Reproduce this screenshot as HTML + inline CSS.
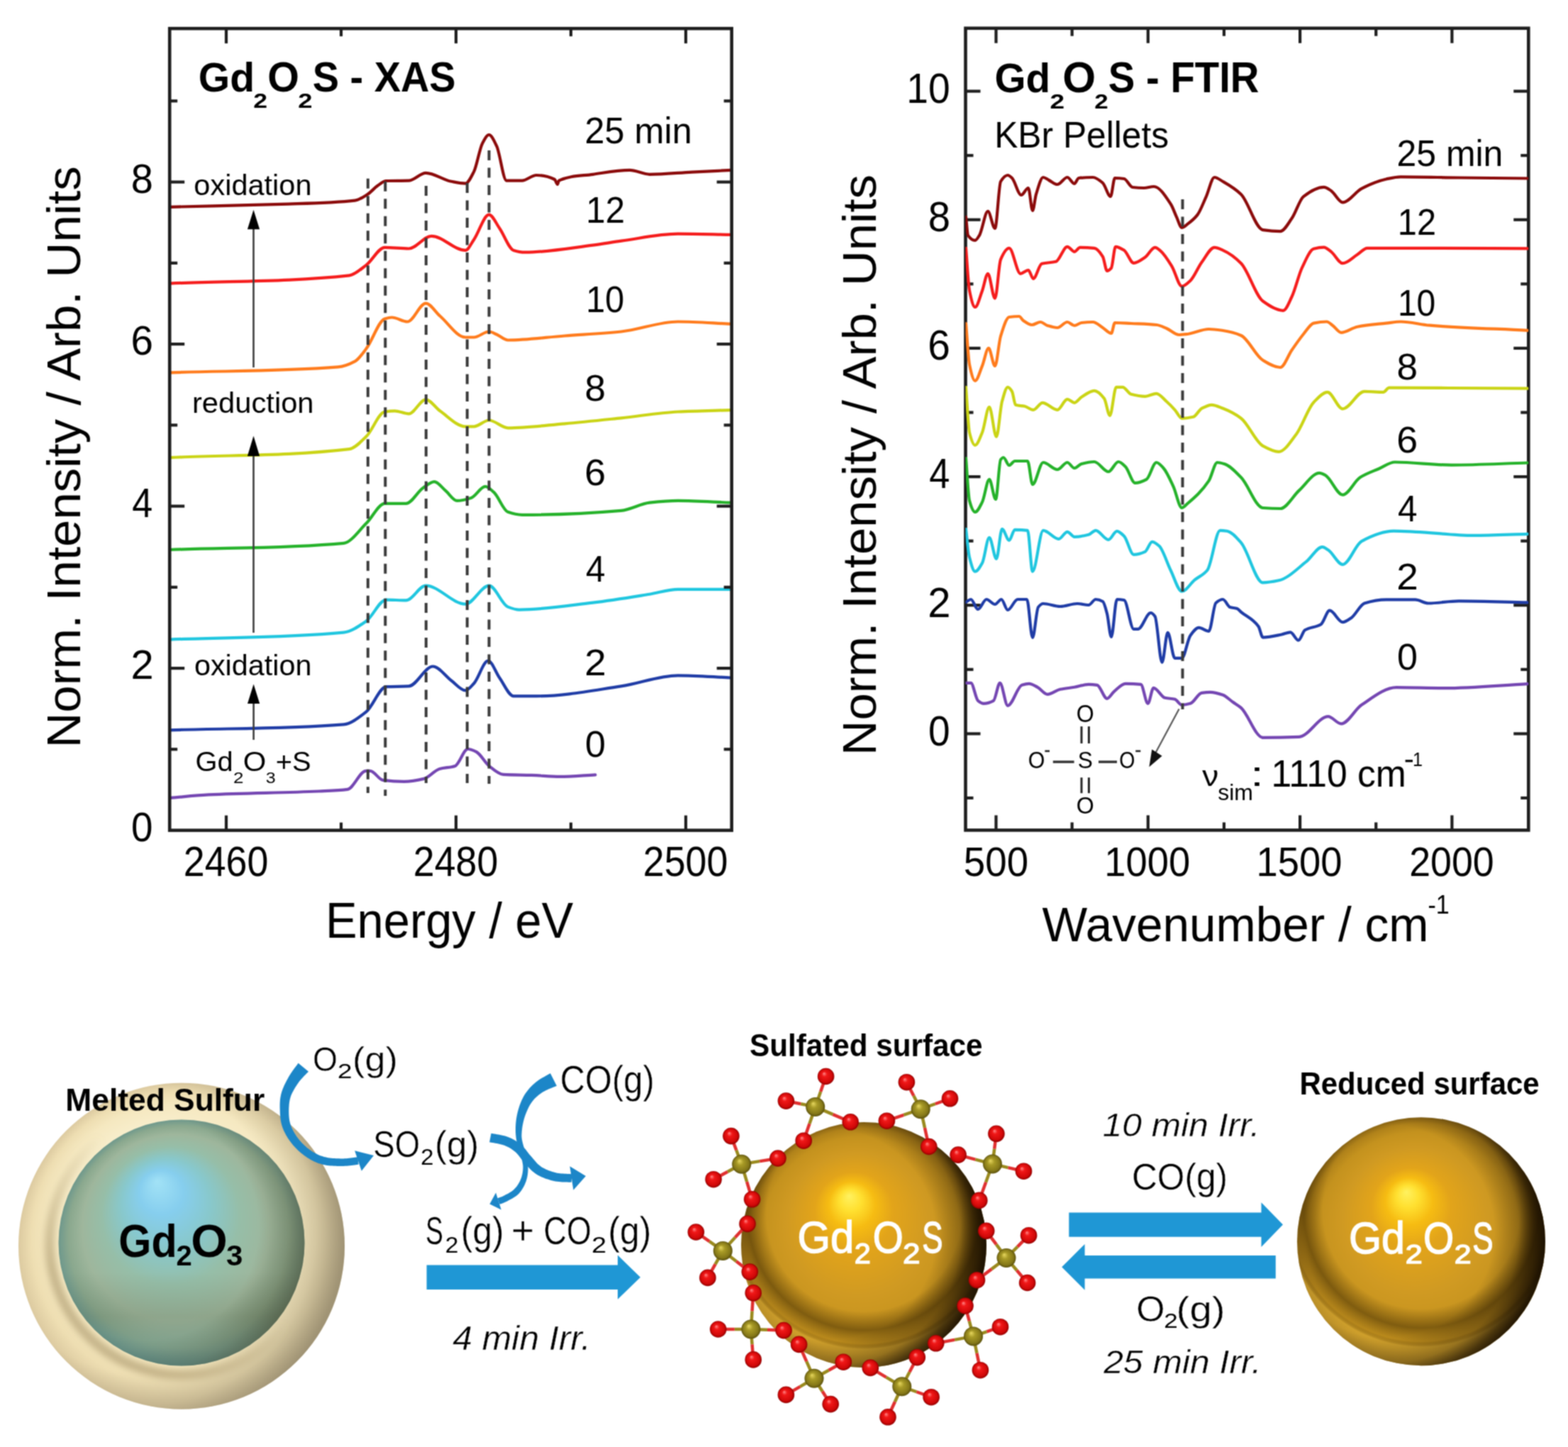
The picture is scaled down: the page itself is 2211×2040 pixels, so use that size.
<!DOCTYPE html>
<html><head><meta charset="utf-8"><title>Gd2O2S XAS FTIR</title>
<style>html,body{margin:0;padding:0;background:#fff;overflow:hidden}svg{display:block}</style>
</head><body>
<svg width="2211" height="2040" viewBox="0 0 2211 2040" font-family="'Liberation Sans', Arial, sans-serif"><defs>
<clipPath id="clipL"><rect x="239.2" y="40.2" width="792.5" height="1130.4"/></clipPath>
<clipPath id="clipR"><rect x="1361.5" y="39.8" width="793.8" height="1130.6"/></clipPath>
<radialGradient id="gOuter" cx="0.5" cy="0.5" r="0.5" fx="0.4" fy="0.3">
 <stop offset="0" stop-color="#fefcee"/>
 <stop offset="0.5" stop-color="#f9f0d0"/>
 <stop offset="0.78" stop-color="#f5e8c0"/>
 <stop offset="0.9" stop-color="#eedeb2"/>
 <stop offset="1" stop-color="#dccaa0"/>
</radialGradient>
<radialGradient id="gOuterShade" gradientUnits="userSpaceOnUse" cx="196" cy="1733" r="290">
 <stop offset="0.7" stop-color="#6e6650" stop-opacity="0"/>
 <stop offset="0.86" stop-color="#6e6650" stop-opacity="0.22"/>
 <stop offset="1" stop-color="#6e6650" stop-opacity="0.55"/>
</radialGradient>
<radialGradient id="gInner" cx="0.5" cy="0.5" r="0.5" fx="0.4" fy="0.25">
 <stop offset="0" stop-color="#a2e2f6"/>
 <stop offset="0.18" stop-color="#86ceee"/>
 <stop offset="0.36" stop-color="#88c8cc"/>
 <stop offset="0.56" stop-color="#96bea8"/>
 <stop offset="0.76" stop-color="#9eb69c"/>
 <stop offset="0.9" stop-color="#8aa88e"/>
 <stop offset="1" stop-color="#6e988c"/>
</radialGradient>
<radialGradient id="gInnerShade" gradientUnits="userSpaceOnUse" cx="205" cy="1730" r="228">
 <stop offset="0.7" stop-color="#4e4a2c" stop-opacity="0"/>
 <stop offset="0.88" stop-color="#4e4a2c" stop-opacity="0.25"/>
 <stop offset="1" stop-color="#4e4a2c" stop-opacity="0.55"/>
</radialGradient>
<linearGradient id="gInnerBand" x1="0" y1="0" x2="0" y2="1">
 <stop offset="0.62" stop-color="#3e4a30" stop-opacity="0"/>
 <stop offset="0.8" stop-color="#3e4a30" stop-opacity="0.16"/>
 <stop offset="0.93" stop-color="#2a6a80" stop-opacity="0.12"/>
 <stop offset="1" stop-color="#2a6a80" stop-opacity="0.25"/>
</linearGradient>
<linearGradient id="gShellBand" x1="1" y1="0" x2="0" y2="1">
 <stop offset="0.45" stop-color="#a08c60" stop-opacity="0"/>
 <stop offset="0.8" stop-color="#a08c60" stop-opacity="0.55"/>
</linearGradient>
<filter id="fb6" x="-20%" y="-20%" width="140%" height="140%"><feGaussianBlur stdDeviation="5"/></filter>
<radialGradient id="gGold" cx="0.5" cy="0.5" r="0.5" fx="0.44" fy="0.3">
 <stop offset="0" stop-color="#fff260"/>
 <stop offset="0.09" stop-color="#ffe030"/>
 <stop offset="0.19" stop-color="#f6bc12"/>
 <stop offset="0.32" stop-color="#e2a41a"/>
 <stop offset="0.58" stop-color="#d09a22"/>
 <stop offset="0.8" stop-color="#c4921e"/>
 <stop offset="0.92" stop-color="#b0821a"/>
 <stop offset="1" stop-color="#8c6614"/>
</radialGradient>
<radialGradient id="gO" cx="0.5" cy="0.5" r="0.5" fx="0.38" fy="0.32">
 <stop offset="0" stop-color="#ff8a8a"/>
 <stop offset="0.3" stop-color="#f01818"/>
 <stop offset="0.8" stop-color="#d00808"/>
 <stop offset="1" stop-color="#900000"/>
</radialGradient>
<radialGradient id="gS" cx="0.5" cy="0.5" r="0.5" fx="0.38" fy="0.32">
 <stop offset="0" stop-color="#e8d860"/>
 <stop offset="0.35" stop-color="#a89a26"/>
 <stop offset="0.8" stop-color="#857818"/>
 <stop offset="1" stop-color="#5a500c"/>
</radialGradient>
<radialGradient id="gs1" gradientUnits="userSpaceOnUse" cx="1171.29" cy="1741.16" r="217.98"><stop offset="0.68" stop-color="#160c00" stop-opacity="0"/><stop offset="0.84" stop-color="#160c00" stop-opacity="0.3"/><stop offset="0.93" stop-color="#160c00" stop-opacity="0.7"/><stop offset="1" stop-color="#160c00" stop-opacity="0.92"/></radialGradient><radialGradient id="gs1b" gradientUnits="userSpaceOnUse" cx="1218" cy="1711.75" r="190.3"><stop offset="0.72" stop-color="#3a2600" stop-opacity="0"/><stop offset="0.86" stop-color="#3a2600" stop-opacity="0.5"/><stop offset="0.96" stop-color="#3a2600" stop-opacity="0"/><stop offset="1.02" stop-color="#f0c040" stop-opacity="0.45"/></radialGradient><radialGradient id="gs2" gradientUnits="userSpaceOnUse" cx="1956.75" cy="1736.2" r="220.5"><stop offset="0.68" stop-color="#160c00" stop-opacity="0"/><stop offset="0.84" stop-color="#160c00" stop-opacity="0.3"/><stop offset="0.93" stop-color="#160c00" stop-opacity="0.7"/><stop offset="1" stop-color="#160c00" stop-opacity="0.92"/></radialGradient><radialGradient id="gs2b" gradientUnits="userSpaceOnUse" cx="2004" cy="1706.45" r="192.5"><stop offset="0.72" stop-color="#3a2600" stop-opacity="0"/><stop offset="0.86" stop-color="#3a2600" stop-opacity="0.5"/><stop offset="0.96" stop-color="#3a2600" stop-opacity="0"/><stop offset="1.02" stop-color="#f0c040" stop-opacity="0.45"/></radialGradient></defs><filter id="soft" x="0" y="0" width="2211" height="2040" filterUnits="userSpaceOnUse" color-interpolation-filters="sRGB"><feConvolveMatrix order="3" kernelMatrix="1 2 1 2 4 2 1 2 1" edgeMode="duplicate" preserveAlpha="true"/></filter><g filter="url(#soft)"><rect width="2211" height="2040" fill="#fff"/><g clip-path="url(#clipL)">
<path d="M239,291.8 C291.57,290.47 344.13,289.61 396.7,287.8 C431.33,286.61 465.97,286.49 500.6,282.6 C506.57,281.93 512.53,277.57 518.5,273.8 C523.17,270.85 527.83,264.97 532.5,261.8 C536.5,259.09 540.5,255.11 544.5,255 C555.17,254.69 565.83,254.87 576.5,254.6 C584.47,254.4 592.43,243.8 600.4,243.8 C612.4,243.8 624.4,253.51 636.4,255.8 C643.03,257.06 649.67,258.6 656.3,258.6 C660.3,258.6 664.3,249.75 668.3,241.9 C672.3,234.05 676.3,209.21 680.3,201.9 C683.37,196.29 686.43,190 689.5,190 C693.1,190 696.7,198.56 700.3,205.9 C704.93,215.34 709.57,254.6 714.2,254.6 C721.53,254.6 728.87,254.6 736.2,254.6 C742.87,254.6 749.53,247 756.2,247 C764.83,247 773.47,248.68 782.1,253 C783.43,253.67 784.77,259.8 786.1,259.8 C786.77,259.8 787.43,254.91 788.1,254.6 C804.07,247.13 820.03,248.05 836,245.8 C853.33,243.36 870.67,239.9 888,239.9 C897.33,239.9 906.67,245.8 916,245.8 C935.93,245.8 955.87,243.62 975.8,242.6 C994.2,241.66 1012.6,240.8 1031,239.9" fill="none" stroke="#8b0a0a" stroke-width="4.2" stroke-linejoin="round" stroke-linecap="round" />
<path d="M239,399.6 C323.53,395.87 408.07,397.56 492.6,388.4 C500.57,387.54 508.53,379.56 516.5,373.6 C525.17,367.12 533.83,348.9 542.5,348.9 C553.83,348.9 565.17,350.5 576.5,350.5 C587.13,350.5 597.77,332.9 608.4,332.9 C624.37,332.9 640.33,352.9 656.3,352.9 C660.3,352.9 664.3,343.37 668.3,337.7 C675.37,327.68 682.43,302.6 689.5,302.6 C694.43,302.6 699.37,314.75 704.3,321.7 C710.93,331.05 717.57,350.87 724.2,352.9 C729.53,354.53 734.87,355.7 740.2,355.7 C772.13,355.7 804.07,349.73 836,345.7 C849.33,344.02 862.67,341.54 876,339.7 C902.63,336.03 929.27,329.7 955.9,329.7 C980.93,329.7 1005.97,330.5 1031,330.9" fill="none" stroke="#f51c1c" stroke-width="4.2" stroke-linejoin="round" stroke-linecap="round" />
<path d="M239,525.4 C318.2,522.73 397.4,523.63 476.6,517.4 C484.6,516.77 492.6,513.67 500.6,509.4 C505.9,506.57 511.2,498.43 516.5,491.5 C525.17,480.16 533.83,452.27 542.5,449.5 C545.83,448.44 549.17,447.5 552.5,447.5 C559.83,447.5 567.17,453.5 574.5,453.5 C583.13,453.5 591.77,427.6 600.4,427.6 C607.07,427.6 613.73,439.72 620.4,445.5 C632.37,455.88 644.33,475.5 656.3,475.5 C660.3,475.5 664.3,475.5 668.3,475.5 C675.37,475.5 682.43,467.5 689.5,467.5 C693.1,467.5 696.7,469.98 700.3,471.5 C705.6,473.74 710.9,479.5 716.2,479.5 C742.83,479.5 769.47,475.5 796.1,473.5 C822.73,471.5 849.37,470.3 876,467.5 C902.63,464.7 929.27,453.5 955.9,453.5 C980.93,453.5 1005.97,455.63 1031,456.7" fill="none" stroke="#ff7b1c" stroke-width="4.2" stroke-linejoin="round" stroke-linecap="round" />
<path d="M239,645.2 C323.53,641.2 408.07,643.14 492.6,633.2 C500.57,632.26 508.53,622.92 516.5,615.3 C525.17,607.01 533.83,581.78 542.5,580.5 C547.17,579.81 551.83,579.3 556.5,579.3 C563.17,579.3 569.83,583.3 576.5,583.3 C584.47,583.3 592.43,563.3 600.4,563.3 C607.07,563.3 613.73,574.61 620.4,579.3 C632.37,587.71 644.33,601.3 656.3,601.3 C660.3,601.3 664.3,601.3 668.3,601.3 C675.37,601.3 682.43,592.5 689.5,592.5 C698.4,592.5 707.3,603.3 716.2,603.3 C742.83,603.3 769.47,599.59 796.1,597.3 C822.73,595.01 849.37,592.09 876,589.3 C902.63,586.51 929.27,581.81 955.9,580.5 C980.93,579.27 1005.97,578.9 1031,578.1" fill="none" stroke="#cad415" stroke-width="4.2" stroke-linejoin="round" stroke-linecap="round" />
<path d="M239,775 C320.87,771.93 402.73,773.5 484.6,765.8 C495.23,764.8 505.87,748.1 516.5,737.8 C525.17,729.4 533.83,709.9 542.5,709.9 C552.5,709.9 562.5,709.9 572.5,709.9 C580.47,709.9 588.43,693.3 596.4,687.9 C601.73,684.29 607.07,679.1 612.4,679.1 C617.73,679.1 623.07,687.44 628.4,691.9 C633.73,696.36 639.07,705.9 644.4,705.9 C651.03,705.9 657.67,704.03 664.3,701.9 C670.97,699.76 677.63,685.9 684.3,685.9 C688.3,685.9 692.3,690.39 696.3,693.9 C702.93,699.72 709.57,719.48 716.2,721.8 C722.87,724.14 729.53,725.8 736.2,725.8 C782.8,725.8 829.4,723.81 876,719.8 C889.3,718.66 902.6,710.19 915.9,708.7 C929.23,707.21 942.57,705.9 955.9,705.9 C980.93,705.9 1005.97,707.77 1031,708.7" fill="none" stroke="#25b22a" stroke-width="4.2" stroke-linejoin="round" stroke-linecap="round" />
<path d="M239,901.6 C320.87,898.27 402.73,899.49 484.6,891.6 C495.23,890.58 505.87,882.92 516.5,875.6 C525.83,869.17 535.17,845.6 544.5,845.6 C553.83,845.6 563.17,846.4 572.5,846.4 C581.8,846.4 591.1,825.7 600.4,825.7 C619.03,825.7 637.67,851.6 656.3,851.6 C667.37,851.6 678.43,825.7 689.5,825.7 C698.4,825.7 707.3,852.15 716.2,855.6 C721.53,857.67 726.87,859.6 732.2,859.6 C766.8,859.6 801.4,853.69 836,849.6 C862.63,846.45 889.27,841.96 915.9,837.7 C929.23,835.57 942.57,830.9 955.9,830.9 C980.93,830.9 1005.97,830.9 1031,830.9" fill="none" stroke="#1fc6df" stroke-width="4.2" stroke-linejoin="round" stroke-linecap="round" />
<path d="M239,1029.3 C320.87,1026.63 402.73,1027.83 484.6,1021.3 C495.23,1020.45 505.87,1011.72 516.5,1003.4 C525.83,996.1 535.17,968.67 544.5,968.2 C555.17,967.67 565.83,967.91 576.5,967.4 C587.8,966.86 599.1,939.5 610.4,939.5 C619.07,939.5 627.73,953.17 636.4,959.5 C643.03,964.35 649.67,973.4 656.3,973.4 C660.3,973.4 664.3,967.74 668.3,963.5 C674.97,956.43 681.63,931.5 688.3,931.5 C693.63,931.5 698.97,948.05 704.3,955.5 C710.93,964.77 717.57,981.4 724.2,981.4 C734.87,981.4 745.53,981.4 756.2,981.4 C796.13,981.4 836.07,973.26 876,967.4 C902.63,963.49 929.27,952.3 955.9,952.3 C980.93,952.3 1005.97,954.43 1031,955.5" fill="none" stroke="#1f3ca6" stroke-width="4.2" stroke-linejoin="round" stroke-linecap="round" />
<path d="M239,1125 C257.33,1123.47 275.67,1121.3 294,1120.4 C346,1117.84 398,1117.86 450,1115.5 C463.33,1114.89 476.67,1114.64 490,1112.9 C498.67,1111.77 507.33,1086.9 516,1086.9 C518,1086.9 520,1086.9 522,1086.9 C527.97,1086.9 533.93,1099.11 539.9,1099.9 C549.87,1101.21 559.83,1101.9 569.8,1101.9 C579.13,1101.9 588.47,1100.13 597.8,1097.9 C605.13,1096.14 612.47,1085.98 619.8,1083.9 C627.1,1081.83 634.4,1082.3 641.7,1079.9 C647.7,1077.92 653.7,1056 659.7,1056 C663.7,1056 667.7,1058.02 671.7,1060 C677.7,1062.97 683.7,1075.19 689.7,1079.9 C696.33,1085.1 702.97,1091.54 709.6,1091.9 C722.93,1092.61 736.27,1092.46 749.6,1092.9 C762.9,1093.34 776.2,1094.9 789.5,1094.9 C806.13,1094.9 822.77,1093.17 839.4,1092.3" fill="none" stroke="#7446b2" stroke-width="4.2" stroke-linejoin="round" stroke-linecap="round" />
</g>
<line x1="518.8" y1="251.8" x2="518.8" y2="1118" stroke="#3a3a3a" stroke-width="4" stroke-dasharray="14 10.5"/>
<line x1="543.3" y1="255.8" x2="543.3" y2="1122" stroke="#3a3a3a" stroke-width="4" stroke-dasharray="14 10.5"/>
<line x1="600.8" y1="262" x2="600.8" y2="1104" stroke="#3a3a3a" stroke-width="4" stroke-dasharray="14 10.5"/>
<line x1="658.8" y1="258" x2="658.8" y2="1104" stroke="#3a3a3a" stroke-width="4" stroke-dasharray="14 10.5"/>
<line x1="689.6" y1="212" x2="689.6" y2="1105" stroke="#3a3a3a" stroke-width="4" stroke-dasharray="14 10.5"/>
<line x1="357.5" y1="322.3" x2="357.5" y2="518" stroke="#3c3c3c" stroke-width="2.6" />
<polygon points="357.5,295.8 348.9,323.3 366.1,323.3" fill="#000"/>
<line x1="357.5" y1="641.9" x2="357.5" y2="892" stroke="#3c3c3c" stroke-width="2.6" />
<polygon points="357.5,614.4 348.9,642.9 366.1,642.9" fill="#000"/>
<line x1="357.6" y1="991" x2="357.6" y2="1043" stroke="#3c3c3c" stroke-width="2.6" />
<polygon points="357.6,964.6 349,992 366.2,992" fill="#000"/>
<rect x="239.2" y="40.2" width="792.5" height="1130.3999999999999" fill="none" stroke="#1e1e1e" stroke-width="4.6"/>
<rect x="1361.5" y="39.8" width="793.8000000000002" height="1130.6000000000001" fill="none" stroke="#1e1e1e" stroke-width="4.6"/>
<line x1="319" y1="40.2" x2="319" y2="61.2" stroke="#1e1e1e" stroke-width="4.2" />
<line x1="319" y1="1170.6" x2="319" y2="1149.6" stroke="#1e1e1e" stroke-width="4.2" />
<line x1="481" y1="40.2" x2="481" y2="51.2" stroke="#1e1e1e" stroke-width="4.2" />
<line x1="481" y1="1170.6" x2="481" y2="1159.6" stroke="#1e1e1e" stroke-width="4.2" />
<line x1="643" y1="40.2" x2="643" y2="61.2" stroke="#1e1e1e" stroke-width="4.2" />
<line x1="643" y1="1170.6" x2="643" y2="1149.6" stroke="#1e1e1e" stroke-width="4.2" />
<line x1="805" y1="40.2" x2="805" y2="51.2" stroke="#1e1e1e" stroke-width="4.2" />
<line x1="805" y1="1170.6" x2="805" y2="1159.6" stroke="#1e1e1e" stroke-width="4.2" />
<line x1="967" y1="40.2" x2="967" y2="61.2" stroke="#1e1e1e" stroke-width="4.2" />
<line x1="967" y1="1170.6" x2="967" y2="1149.6" stroke="#1e1e1e" stroke-width="4.2" />
<line x1="239.2" y1="1056.35" x2="250.2" y2="1056.35" stroke="#1e1e1e" stroke-width="4.2" />
<line x1="1031.7" y1="1056.35" x2="1020.7" y2="1056.35" stroke="#1e1e1e" stroke-width="4.2" />
<line x1="239.2" y1="942.1" x2="260.2" y2="942.1" stroke="#1e1e1e" stroke-width="4.2" />
<line x1="1031.7" y1="942.1" x2="1010.7" y2="942.1" stroke="#1e1e1e" stroke-width="4.2" />
<line x1="239.2" y1="827.85" x2="250.2" y2="827.85" stroke="#1e1e1e" stroke-width="4.2" />
<line x1="1031.7" y1="827.85" x2="1020.7" y2="827.85" stroke="#1e1e1e" stroke-width="4.2" />
<line x1="239.2" y1="713.6" x2="260.2" y2="713.6" stroke="#1e1e1e" stroke-width="4.2" />
<line x1="1031.7" y1="713.6" x2="1010.7" y2="713.6" stroke="#1e1e1e" stroke-width="4.2" />
<line x1="239.2" y1="599.35" x2="250.2" y2="599.35" stroke="#1e1e1e" stroke-width="4.2" />
<line x1="1031.7" y1="599.35" x2="1020.7" y2="599.35" stroke="#1e1e1e" stroke-width="4.2" />
<line x1="239.2" y1="485.1" x2="260.2" y2="485.1" stroke="#1e1e1e" stroke-width="4.2" />
<line x1="1031.7" y1="485.1" x2="1010.7" y2="485.1" stroke="#1e1e1e" stroke-width="4.2" />
<line x1="239.2" y1="370.85" x2="250.2" y2="370.85" stroke="#1e1e1e" stroke-width="4.2" />
<line x1="1031.7" y1="370.85" x2="1020.7" y2="370.85" stroke="#1e1e1e" stroke-width="4.2" />
<line x1="239.2" y1="256.6" x2="260.2" y2="256.6" stroke="#1e1e1e" stroke-width="4.2" />
<line x1="1031.7" y1="256.6" x2="1010.7" y2="256.6" stroke="#1e1e1e" stroke-width="4.2" />
<line x1="239.2" y1="142.35" x2="250.2" y2="142.35" stroke="#1e1e1e" stroke-width="4.2" />
<line x1="1031.7" y1="142.35" x2="1020.7" y2="142.35" stroke="#1e1e1e" stroke-width="4.2" />
<line x1="1404.5" y1="39.8" x2="1404.5" y2="60.8" stroke="#1e1e1e" stroke-width="4.2" />
<line x1="1404.5" y1="1170.4" x2="1404.5" y2="1149.4" stroke="#1e1e1e" stroke-width="4.2" />
<line x1="1511.65" y1="39.8" x2="1511.65" y2="50.8" stroke="#1e1e1e" stroke-width="4.2" />
<line x1="1511.65" y1="1170.4" x2="1511.65" y2="1159.4" stroke="#1e1e1e" stroke-width="4.2" />
<line x1="1618.8" y1="39.8" x2="1618.8" y2="60.8" stroke="#1e1e1e" stroke-width="4.2" />
<line x1="1618.8" y1="1170.4" x2="1618.8" y2="1149.4" stroke="#1e1e1e" stroke-width="4.2" />
<line x1="1725.95" y1="39.8" x2="1725.95" y2="50.8" stroke="#1e1e1e" stroke-width="4.2" />
<line x1="1725.95" y1="1170.4" x2="1725.95" y2="1159.4" stroke="#1e1e1e" stroke-width="4.2" />
<line x1="1833.1" y1="39.8" x2="1833.1" y2="60.8" stroke="#1e1e1e" stroke-width="4.2" />
<line x1="1833.1" y1="1170.4" x2="1833.1" y2="1149.4" stroke="#1e1e1e" stroke-width="4.2" />
<line x1="1940.25" y1="39.8" x2="1940.25" y2="50.8" stroke="#1e1e1e" stroke-width="4.2" />
<line x1="1940.25" y1="1170.4" x2="1940.25" y2="1159.4" stroke="#1e1e1e" stroke-width="4.2" />
<line x1="2047.4" y1="39.8" x2="2047.4" y2="60.8" stroke="#1e1e1e" stroke-width="4.2" />
<line x1="2047.4" y1="1170.4" x2="2047.4" y2="1149.4" stroke="#1e1e1e" stroke-width="4.2" />
<line x1="1361.5" y1="1124.98" x2="1372.5" y2="1124.98" stroke="#1e1e1e" stroke-width="4.2" />
<line x1="2155.3" y1="1124.98" x2="2144.3" y2="1124.98" stroke="#1e1e1e" stroke-width="4.2" />
<line x1="1361.5" y1="1034.4" x2="1382.5" y2="1034.4" stroke="#1e1e1e" stroke-width="4.2" />
<line x1="2155.3" y1="1034.4" x2="2134.3" y2="1034.4" stroke="#1e1e1e" stroke-width="4.2" />
<line x1="1361.5" y1="943.82" x2="1372.5" y2="943.82" stroke="#1e1e1e" stroke-width="4.2" />
<line x1="2155.3" y1="943.82" x2="2144.3" y2="943.82" stroke="#1e1e1e" stroke-width="4.2" />
<line x1="1361.5" y1="853.24" x2="1382.5" y2="853.24" stroke="#1e1e1e" stroke-width="4.2" />
<line x1="2155.3" y1="853.24" x2="2134.3" y2="853.24" stroke="#1e1e1e" stroke-width="4.2" />
<line x1="1361.5" y1="762.66" x2="1372.5" y2="762.66" stroke="#1e1e1e" stroke-width="4.2" />
<line x1="2155.3" y1="762.66" x2="2144.3" y2="762.66" stroke="#1e1e1e" stroke-width="4.2" />
<line x1="1361.5" y1="672.08" x2="1382.5" y2="672.08" stroke="#1e1e1e" stroke-width="4.2" />
<line x1="2155.3" y1="672.08" x2="2134.3" y2="672.08" stroke="#1e1e1e" stroke-width="4.2" />
<line x1="1361.5" y1="581.5" x2="1372.5" y2="581.5" stroke="#1e1e1e" stroke-width="4.2" />
<line x1="2155.3" y1="581.5" x2="2144.3" y2="581.5" stroke="#1e1e1e" stroke-width="4.2" />
<line x1="1361.5" y1="490.92" x2="1382.5" y2="490.92" stroke="#1e1e1e" stroke-width="4.2" />
<line x1="2155.3" y1="490.92" x2="2134.3" y2="490.92" stroke="#1e1e1e" stroke-width="4.2" />
<line x1="1361.5" y1="400.34" x2="1372.5" y2="400.34" stroke="#1e1e1e" stroke-width="4.2" />
<line x1="2155.3" y1="400.34" x2="2144.3" y2="400.34" stroke="#1e1e1e" stroke-width="4.2" />
<line x1="1361.5" y1="309.76" x2="1382.5" y2="309.76" stroke="#1e1e1e" stroke-width="4.2" />
<line x1="2155.3" y1="309.76" x2="2134.3" y2="309.76" stroke="#1e1e1e" stroke-width="4.2" />
<line x1="1361.5" y1="219.18" x2="1372.5" y2="219.18" stroke="#1e1e1e" stroke-width="4.2" />
<line x1="2155.3" y1="219.18" x2="2144.3" y2="219.18" stroke="#1e1e1e" stroke-width="4.2" />
<line x1="1361.5" y1="128.6" x2="1382.5" y2="128.6" stroke="#1e1e1e" stroke-width="4.2" />
<line x1="2155.3" y1="128.6" x2="2134.3" y2="128.6" stroke="#1e1e1e" stroke-width="4.2" />
<g clip-path="url(#clipR)">
<path d="M1362,305.9 C1363,314.53 1364,330.27 1365,331.8 C1368.33,336.89 1371.67,338.8 1375,338.8 C1377,338.8 1379,334.96 1381,331.8 C1385,325.49 1389,297.9 1393,297.9 C1396.33,297.9 1399.67,321.9 1403,321.9 C1405.67,321.9 1408.33,260.46 1411,256 C1414.33,250.43 1417.67,247 1421,247 C1423,247 1425,249.15 1427,251 C1431.33,255.01 1435.67,275 1440,275 C1443.33,275 1446.67,265 1450,265 C1452,265 1454,296.9 1456,296.9 C1457.67,296.9 1459.33,279.33 1461,273.9 C1464.33,263.03 1467.67,250 1471,250 C1473.67,250 1476.33,252.67 1479,254 C1483,256 1487,260 1491,260 C1495.67,260 1500.33,250 1505,250 C1508.33,250 1511.67,259 1515,259 C1517,259 1519,251.23 1521,251 C1527.67,250.23 1534.33,250 1541,250 C1545.67,250 1550.33,253.91 1555,258 C1558.67,261.21 1562.33,277 1566,277 C1568,277 1570,251 1572,251 C1576.33,251 1580.67,251.37 1585,252 C1589,252.58 1593,263.51 1597,264 C1602.33,264.65 1607.67,265 1613,265 C1617.67,265 1622.33,263 1627,263 C1635,263 1643,275.89 1651,288 C1653.67,292.04 1656.33,300.27 1659,305.9 C1661.5,311.18 1664,320.9 1666.5,320.9 C1669.17,320.9 1671.83,317.86 1674.5,315.9 C1679.17,312.47 1683.83,308.95 1688.5,302.9 C1692.5,297.71 1696.5,286.69 1700.5,277.9 C1704.5,269.11 1708.5,250 1712.5,250 C1716.5,250 1720.5,253.71 1724.5,256 C1733,260.88 1741.5,265.72 1750,274 C1760.23,283.97 1770.47,322.67 1780.7,324.2 C1788.9,325.43 1797.1,326.2 1805.3,326.2 C1810.73,326.2 1816.17,315.45 1821.6,307.8 C1827.07,300.1 1832.53,281.4 1838,277.1 C1847.57,269.58 1857.13,263.8 1866.7,263.8 C1870.13,263.8 1873.57,266.68 1877,268.9 C1882.43,272.42 1887.87,285.3 1893.3,285.3 C1902.2,285.3 1911.1,270.34 1920,265.8 C1931.57,259.91 1943.13,254.93 1954.7,252.5 C1961.47,251.08 1968.23,249.4 1975,249.4 C2002.33,249.4 2029.67,250.18 2057,250.5 C2089.33,250.88 2121.67,251.17 2154,251.5" fill="none" stroke="#8b0a0a" stroke-width="4.2" stroke-linejoin="round" stroke-linecap="round" />
<path d="M1362,349.8 C1363.67,369.77 1365.33,401.51 1367,409.7 C1369.67,422.81 1372.33,433 1375,433 C1378.33,433 1381.67,418.75 1385,410 C1387.67,403 1390.33,385.8 1393,385.8 C1396.33,385.8 1399.67,420.7 1403,420.7 C1405.67,420.7 1408.33,372.03 1411,365.8 C1415,356.45 1419,349.8 1423,349.8 C1428.33,349.8 1433.67,385.8 1439,385.8 C1442.67,385.8 1446.33,380.8 1450,380.8 C1452.33,380.8 1454.67,392.8 1457,392.8 C1461,392.8 1465,372.99 1469,371.8 C1475.67,369.82 1482.33,370.65 1489,368.8 C1494.33,367.32 1499.67,347.8 1505,347.8 C1508.33,347.8 1511.67,354.8 1515,354.8 C1517.67,354.8 1520.33,348.8 1523,348.8 C1529.67,348.8 1536.33,349.11 1543,349.8 C1547,350.21 1551,355.25 1555,361.8 C1557,365.07 1559,381.8 1561,381.8 C1563,381.8 1565,380.15 1567,377.8 C1569,375.45 1571,347.8 1573,347.8 C1577,347.8 1581,350.29 1585,352.8 C1589.53,355.64 1594.07,370.8 1598.6,370.8 C1603.93,370.8 1609.27,366.38 1614.6,362.8 C1619.27,359.67 1623.93,348.8 1628.6,348.8 C1631.27,348.8 1633.93,351.6 1636.6,353.8 C1641.93,358.2 1647.27,367.06 1652.6,375.8 C1657.23,383.39 1661.87,403.7 1666.5,403.7 C1670.5,403.7 1674.5,399.4 1678.5,395.7 C1683.83,390.76 1689.17,377.06 1694.5,369.8 C1700.5,361.64 1706.5,348.8 1712.5,348.8 C1716.5,348.8 1720.5,351.05 1724.5,352.8 C1733,356.51 1741.5,362.64 1750,371.2 C1760.23,381.5 1770.47,417.06 1780.7,424.5 C1790.27,431.45 1799.83,437.8 1809.4,437.8 C1813.47,437.8 1817.53,426.56 1821.6,418.3 C1826.4,408.56 1831.2,387.37 1836,377.4 C1841.47,366.05 1846.93,352.24 1852.4,350.8 C1857.17,349.54 1861.93,348.7 1866.7,348.7 C1870.13,348.7 1873.57,352.37 1877,354.9 C1882.43,358.91 1887.87,371.2 1893.3,371.2 C1900.13,371.2 1906.97,363.25 1913.8,359 C1918.53,356.06 1923.27,349.8 1928,349.8 C1950.53,349.8 1973.07,349.8 1995.6,349.8 C2048.4,349.8 2101.2,350.2 2154,350.4" fill="none" stroke="#f51c1c" stroke-width="4.2" stroke-linejoin="round" stroke-linecap="round" />
<path d="M1362,456 C1363.67,475.3 1365.33,505.88 1367,513.9 C1369.67,526.74 1372.33,536.8 1375,536.8 C1378.33,536.8 1381.67,523.87 1385,515.9 C1388,508.73 1391,490.9 1394,490.9 C1397,490.9 1400,515.9 1403,515.9 C1405.67,515.9 1408.33,482.62 1411,474 C1415,461.06 1419,447.57 1423,447 C1427.67,446.34 1432.33,446 1437,446 C1439,446 1441,450.62 1443,452 C1447,454.77 1451,458 1455,458 C1459,458 1463,454 1467,454 C1470.33,454 1473.67,457.98 1477,459 C1481.67,460.43 1486.33,462 1491,462 C1495.67,462 1500.33,454 1505,454 C1508.33,454 1511.67,459 1515,459 C1518.33,459 1521.67,455.38 1525,455 C1530.33,454.39 1535.67,454 1541,454 C1545.67,454 1550.33,459.12 1555,462 C1559,464.47 1563,470 1567,470 C1568.67,470 1570.33,455 1572,455 C1579.67,455 1587.33,455.63 1595,456 C1607,456.58 1619,456.71 1631,458 C1635.67,458.5 1640.33,461.05 1645,463 C1650.83,465.44 1656.67,472 1662.5,472 C1666.5,472 1670.5,471.46 1674.5,471 C1684.5,469.85 1694.5,464 1704.5,464 C1711.17,464 1717.83,465.04 1724.5,466 C1733,467.22 1741.5,469.31 1750,473 C1760.23,477.44 1770.47,501.69 1780.7,507.8 C1788.9,512.7 1797.1,518 1805.3,518 C1810.73,518 1816.17,501.29 1821.6,493.5 C1827.07,485.66 1832.53,477.55 1838,471 C1842.8,465.25 1847.6,456.62 1852.4,455.6 C1858.53,454.29 1864.67,453.5 1870.8,453.5 C1873.53,453.5 1876.27,456.75 1879,458.7 C1883.07,461.61 1887.13,468.9 1891.2,468.9 C1898.73,468.9 1906.27,462.17 1913.8,460.7 C1927.43,458.05 1941.07,457.12 1954.7,455.6 C1961.53,454.84 1968.37,453.5 1975.2,453.5 C1988.8,453.5 2002.4,457.62 2016,458.7 C2062,462.35 2108,463.43 2154,465.8" fill="none" stroke="#ff7b1c" stroke-width="4.2" stroke-linejoin="round" stroke-linecap="round" />
<path d="M1362,545.8 C1363.67,567.1 1365.33,602.96 1367,609.7 C1369.67,620.48 1372.33,627.7 1375,627.7 C1378.33,627.7 1381.67,617.69 1385,609.7 C1388.33,601.71 1391.67,573.8 1395,573.8 C1398.33,573.8 1401.67,615.7 1405,615.7 C1407.67,615.7 1410.33,575.32 1413,565.8 C1415.67,556.28 1418.33,545.8 1421,545.8 C1423,545.8 1425,548.58 1427,551.8 C1428.67,554.49 1430.33,570.23 1432,570.8 C1436.33,572.28 1440.67,571.82 1445,572.8 C1449,573.7 1453,577.8 1457,577.8 C1461.33,577.8 1465.67,567.8 1470,567.8 C1477,567.8 1484,577.8 1491,577.8 C1495.67,577.8 1500.33,562.8 1505,562.8 C1508.33,562.8 1511.67,567.8 1515,567.8 C1518.33,567.8 1521.67,561.9 1525,559.8 C1531,556.02 1537,550.8 1543,550.8 C1547.67,550.8 1552.33,555.66 1557,561.8 C1559.67,565.31 1562.33,585.8 1565,585.8 C1568,585.8 1571,545.8 1574,545.8 C1577,545.8 1580,545.8 1583,545.8 C1587,545.8 1591,554.72 1595,555.8 C1601.67,557.6 1608.33,558.8 1615,558.8 C1620.2,558.8 1625.4,554.8 1630.6,554.8 C1635.27,554.8 1639.93,561.68 1644.6,565.8 C1648.6,569.33 1652.6,573.4 1656.6,577.8 C1659.9,581.43 1663.2,589.8 1666.5,589.8 C1671.83,589.8 1677.17,589.03 1682.5,587.8 C1686.5,586.88 1690.5,577.93 1694.5,575.8 C1699.17,573.31 1703.83,570.8 1708.5,570.8 C1713.83,570.8 1719.17,573.72 1724.5,575.8 C1733,579.11 1741.5,583.3 1750,589.7 C1760.23,597.41 1770.47,622.97 1780.7,628.6 C1788.2,632.73 1795.7,636.8 1803.2,636.8 C1811.4,636.8 1819.6,622.8 1827.8,612.2 C1836,601.6 1844.2,575.72 1852.4,567.2 C1858.87,560.48 1865.33,552.8 1871.8,552.8 C1878.97,552.8 1886.13,576.4 1893.3,576.4 C1903.53,576.4 1913.77,551.8 1924,551.8 C1932.87,551.8 1941.73,552.8 1950.6,552.8 C1953.33,552.8 1956.07,546.7 1958.8,546.7 C2023.87,546.7 2088.93,547.37 2154,547.7" fill="none" stroke="#cad415" stroke-width="4.2" stroke-linejoin="round" stroke-linecap="round" />
<path d="M1362,646 C1363.67,665.97 1365.33,699.86 1367,705.9 C1369.67,715.57 1372.33,721.9 1375,721.9 C1378.33,721.9 1381.67,714.39 1385,707.9 C1388.33,701.41 1391.67,675.9 1395,675.9 C1398,675.9 1401,703.9 1404,703.9 C1406.33,703.9 1408.67,650.98 1411,648 C1412.33,646.3 1413.67,645 1415,645 C1417.67,645 1420.33,656 1423,656 C1425.67,656 1428.33,650 1431,650 C1437,650 1443,650 1449,650 C1451.33,650 1453.67,682.9 1456,682.9 C1461,682.9 1466,652 1471,652 C1477.67,652 1484.33,662 1491,662 C1495.67,662 1500.33,652 1505,652 C1508.33,652 1511.67,660 1515,660 C1518.33,660 1521.67,654.92 1525,654 C1531,652.35 1537,651 1543,651 C1549.67,651 1556.33,665 1563,665 C1567.67,665 1572.33,651 1577,651 C1580.33,651 1583.67,654.77 1587,658 C1591.53,662.39 1596.07,680.9 1600.6,680.9 C1605.93,680.9 1611.27,678.76 1616.6,675.9 C1621.27,673.4 1625.93,652 1630.6,652 C1633.93,652 1637.27,656.35 1640.6,660 C1645.23,665.08 1649.87,675.97 1654.5,685.9 C1658.5,694.47 1662.5,715.9 1666.5,715.9 C1669.17,715.9 1671.83,712.17 1674.5,709.9 C1684.5,701.38 1694.5,692.9 1704.5,677.9 C1708.5,671.9 1712.5,652 1716.5,652 C1719.8,652 1723.1,653.01 1726.4,654 C1734.27,656.35 1742.13,665.05 1750,673 C1760.23,683.34 1770.47,715.22 1780.7,716 C1788.9,716.63 1797.1,717 1805.3,717 C1814.17,717 1823.03,699.46 1831.9,691.4 C1841.43,682.73 1850.97,666.8 1860.5,666.8 C1863.23,666.8 1865.97,668.47 1868.7,669.9 C1876.9,674.19 1885.1,697.6 1893.3,697.6 C1901.5,697.6 1909.7,678.21 1917.9,673 C1926.77,667.37 1935.63,664.54 1944.5,660.7 C1952,657.45 1959.5,651.5 1967,651.5 C1993.6,651.5 2020.2,655.6 2046.8,655.6 C2082.53,655.6 2118.27,653.53 2154,652.5" fill="none" stroke="#25b22a" stroke-width="4.2" stroke-linejoin="round" stroke-linecap="round" />
<path d="M1362,745.8 C1363.67,759.13 1365.33,779.21 1367,785.8 C1369.67,796.35 1372.33,805.7 1375,805.7 C1378.33,805.7 1381.67,799.76 1385,793.8 C1388.33,787.84 1391.67,757.8 1395,757.8 C1398.33,757.8 1401.67,787.8 1405,787.8 C1407.67,787.8 1410.33,745.8 1413,745.8 C1416.33,745.8 1419.67,761.8 1423,761.8 C1425.67,761.8 1428.33,746.8 1431,746.8 C1437,746.8 1443,747.03 1449,747.8 C1451.33,748.1 1453.67,805.7 1456,805.7 C1461,805.7 1466,747.8 1471,747.8 C1478.33,747.8 1485.67,759.8 1493,759.8 C1497,759.8 1501,749.8 1505,749.8 C1508.33,749.8 1511.67,756.8 1515,756.8 C1521.67,756.8 1528.33,755.51 1535,753.8 C1538.33,752.94 1541.67,747.8 1545,747.8 C1551,747.8 1557,760.8 1563,760.8 C1567,760.8 1571,748.8 1575,748.8 C1578.33,748.8 1581.67,752.46 1585,755.8 C1589.53,760.34 1594.07,781.8 1598.6,781.8 C1603.93,781.8 1609.27,780.19 1614.6,777.8 C1617.93,776.31 1621.27,763.8 1624.6,763.8 C1627.93,763.8 1631.27,766.81 1634.6,769.8 C1639.93,774.58 1645.27,793.06 1650.6,803.7 C1655.9,814.28 1661.2,833.7 1666.5,833.7 C1672.5,833.7 1678.5,822.68 1684.5,817.7 C1690.5,812.72 1696.5,811.16 1702.5,803.7 C1708.5,796.24 1714.5,747.8 1720.5,747.8 C1723.8,747.8 1727.1,748.25 1730.4,748.8 C1736.93,749.88 1743.47,757.82 1750,765.1 C1760.23,776.5 1770.47,821.4 1780.7,821.4 C1788.2,821.4 1795.7,819.92 1803.2,818.3 C1816.17,815.49 1829.13,801.96 1842.1,791.7 C1849.6,785.77 1857.1,771.2 1864.6,771.2 C1867.33,771.2 1870.07,773.56 1872.8,775.3 C1879.63,779.65 1886.47,795.8 1893.3,795.8 C1902.17,795.8 1911.03,767.83 1919.9,763.1 C1934.93,755.07 1949.97,748.7 1965,748.7 C1975.23,748.7 1985.47,749.35 1995.7,749.8 C2022.97,750.99 2050.23,754.9 2077.5,754.9 C2103,754.9 2128.5,753.5 2154,752.8" fill="none" stroke="#1fc6df" stroke-width="4.2" stroke-linejoin="round" stroke-linecap="round" />
<path d="M1362,849 C1364.33,847.67 1366.67,845 1369,845 C1372.33,845 1375.67,859 1379,859 C1383,859 1387,845 1391,845 C1395,845 1399,852 1403,852 C1406,852 1409,845 1412,845 C1415,845 1418,860 1421,860 C1425.67,860 1430.33,845 1435,845 C1439.33,845 1443.67,845 1448,845 C1450.67,845 1453.33,898.9 1456,898.9 C1458.67,898.9 1461.33,859.31 1464,856 C1466.33,853.11 1468.67,851 1471,851 C1479,851 1487,855 1495,855 C1503,855 1511,851 1519,851 C1524.33,851 1529.67,853 1535,853 C1538.33,853 1541.67,845 1545,845 C1548.33,845 1551.67,846.06 1555,848 C1557,849.16 1559,857.53 1561,865 C1563,872.47 1565,897.9 1567,897.9 C1569.67,897.9 1572.33,845 1575,845 C1578.33,845 1581.67,845.38 1585,846 C1589.53,846.84 1594.07,886.9 1598.6,886.9 C1600.6,886.9 1602.6,886.9 1604.6,886.9 C1610.6,886.9 1616.6,864 1622.6,864 C1624.6,864 1626.6,866.17 1628.6,868.9 C1631.93,873.44 1635.27,933.8 1638.6,933.8 C1641.27,933.8 1643.93,891.9 1646.6,891.9 C1649.93,891.9 1653.27,927.9 1656.6,927.9 C1659.9,927.9 1663.2,927.9 1666.5,927.9 C1670.5,927.9 1674.5,901.36 1678.5,895.9 C1682.5,890.44 1686.5,884.9 1690.5,884.9 C1695.17,884.9 1699.83,889.9 1704.5,889.9 C1707.83,889.9 1711.17,852.98 1714.5,850 C1717.8,847.05 1721.1,845 1724.4,845 C1727.73,845 1731.07,854.87 1734.4,856 C1737.73,857.13 1741.07,856.85 1744.4,858 C1746.27,858.64 1748.13,861.22 1750,862.8 C1758.2,869.74 1766.4,871.81 1774.6,883.2 C1776.63,886.03 1778.67,898.6 1780.7,898.6 C1789.57,898.6 1798.43,896.25 1807.3,894.5 C1811.4,893.69 1815.5,891.4 1819.6,891.4 C1823.37,891.4 1827.13,902.7 1830.9,902.7 C1833.97,902.7 1837.03,890.27 1840.1,888.3 C1847.6,883.49 1855.1,884.89 1862.6,880.2 C1866.7,877.64 1870.8,860.7 1874.9,860.7 C1881.03,860.7 1887.17,877.1 1893.3,877.1 C1897.4,877.1 1901.5,873.67 1905.6,870.9 C1911.73,866.75 1917.87,852.39 1924,850.5 C1934.23,847.35 1944.47,845.4 1954.7,845.4 C1968.33,845.4 1981.97,845.4 1995.6,845.4 C2001.73,845.4 2007.87,850.5 2014,850.5 C2028.33,850.5 2042.67,847.4 2057,847.4 C2089.33,847.4 2121.67,848.73 2154,849.4" fill="none" stroke="#1f3ca6" stroke-width="4.2" stroke-linejoin="round" stroke-linecap="round" />
<path d="M1362,962.8 C1364.33,962.8 1366.67,962.8 1369,962.8 C1372.33,962.8 1375.67,985.09 1379,987.8 C1381.67,989.97 1384.33,991.8 1387,991.8 C1391.67,991.8 1396.33,990.37 1401,987.8 C1404,986.15 1407,962.8 1410,962.8 C1413.67,962.8 1417.33,994.8 1421,994.8 C1427.67,994.8 1434.33,967.96 1441,965.8 C1444.33,964.72 1447.67,963.8 1451,963.8 C1455,963.8 1459,966.71 1463,968.8 C1467.67,971.24 1472.33,978.8 1477,978.8 C1483,978.8 1489,973.11 1495,971.8 C1501.67,970.35 1508.33,969.94 1515,968.8 C1521.67,967.66 1528.33,964.8 1535,964.8 C1539,964.8 1543,965.19 1547,965.8 C1551.67,966.52 1556.33,984.8 1561,984.8 C1564.33,984.8 1567.67,977.56 1571,974.8 C1576.33,970.39 1581.67,963.8 1587,963.8 C1594.2,963.8 1601.4,964.06 1608.6,964.8 C1611.93,965.14 1615.27,991.8 1618.6,991.8 C1621.27,991.8 1623.93,969.8 1626.6,969.8 C1631.93,969.8 1637.27,982.51 1642.6,983.8 C1647.27,984.93 1651.93,984.62 1656.6,985.8 C1659.9,986.63 1663.2,993.8 1666.5,993.8 C1670.5,993.8 1674.5,992.9 1678.5,991.8 C1683.83,990.34 1689.17,977.59 1694.5,976.8 C1698.5,976.21 1702.5,975.8 1706.5,975.8 C1712.47,975.8 1718.43,977.72 1724.4,979.8 C1729.07,981.42 1733.73,986.51 1738.4,989.8 C1742.27,992.53 1746.13,994.49 1750,997.9 C1760.23,1006.92 1770.47,1039.8 1780.7,1039.8 C1797.77,1039.8 1814.83,1039.47 1831.9,1038.8 C1845.53,1038.26 1859.17,1010.1 1872.8,1010.1 C1878.93,1010.1 1885.07,1020.4 1891.2,1020.4 C1900.77,1020.4 1910.33,1000.19 1919.9,993.8 C1936.27,982.87 1952.63,969.2 1969,969.2 C1991.53,969.2 2014.07,970.2 2036.6,970.2 C2075.73,970.2 2114.87,966.13 2154,964.1" fill="none" stroke="#7446b2" stroke-width="4.2" stroke-linejoin="round" stroke-linecap="round" />
</g>
<line x1="1667.5" y1="281" x2="1667.5" y2="1000" stroke="#3a3a3a" stroke-width="4" stroke-dasharray="14 10.5"/>
<line x1="1662.6" y1="999.5" x2="1628" y2="1064" stroke="#555" stroke-width="2.2" />
<polygon points="1620.4,1081.2 1624.3,1056.6 1638.6,1065.7" fill="#111"/>
<text x="279.72" y="128.9" font-size="56.69" textLength="79.32" lengthAdjust="spacingAndGlyphs" font-weight="bold" >Gd</text>
<text x="357.35" y="151.8" font-size="30" textLength="19.81" lengthAdjust="spacingAndGlyphs" font-weight="bold" >2</text>
<text x="377.2" y="128.9" font-size="59.57" textLength="44.65" lengthAdjust="spacingAndGlyphs" font-weight="bold" >O</text>
<text x="420.22" y="151.8" font-size="30" textLength="20.28" lengthAdjust="spacingAndGlyphs" font-weight="bold" >2</text>
<text x="440.72" y="128.9" font-size="59.57" textLength="201.94" lengthAdjust="spacingAndGlyphs" font-weight="bold" >S - XAS</text>
<text x="824.48" y="201.5" font-size="51.43" textLength="151.38" lengthAdjust="spacingAndGlyphs" >25 min</text>
<text x="826.31" y="314" font-size="51.43" textLength="54.77" lengthAdjust="spacingAndGlyphs" >12</text>
<text x="826.36" y="439.5" font-size="51.43" textLength="53.95" lengthAdjust="spacingAndGlyphs" >10</text>
<text x="824.61" y="564.5" font-size="51.43" textLength="29.58" lengthAdjust="spacingAndGlyphs" >8</text>
<text x="824.31" y="684" font-size="51.43" textLength="29.9" lengthAdjust="spacingAndGlyphs" >6</text>
<text x="826.01" y="819.7" font-size="52.17" textLength="27.53" lengthAdjust="spacingAndGlyphs" >4</text>
<text x="824.25" y="951.5" font-size="51.43" textLength="30.56" lengthAdjust="spacingAndGlyphs" >2</text>
<text x="824.92" y="1067" font-size="51.43" textLength="28.97" lengthAdjust="spacingAndGlyphs" >0</text>
<text x="273.34" y="274.6" font-size="39.72" textLength="166.19" lengthAdjust="spacingAndGlyphs" >oxidation</text>
<text x="270.99" y="582.4" font-size="39.72" textLength="171.58" lengthAdjust="spacingAndGlyphs" >reduction</text>
<text x="273.95" y="951.6" font-size="40.41" textLength="165.57" lengthAdjust="spacingAndGlyphs" >oxidation</text>
<text x="275.41" y="1086.6" font-size="39.71" textLength="53.14" lengthAdjust="spacingAndGlyphs" >Gd</text>
<text x="329" y="1104" font-size="21.43" textLength="14.42" lengthAdjust="spacingAndGlyphs" >2</text>
<text x="342.71" y="1086.6" font-size="39.71" textLength="32.59" lengthAdjust="spacingAndGlyphs" >O</text>
<text x="374.7" y="1104" font-size="21.43" textLength="13.93" lengthAdjust="spacingAndGlyphs" >3</text>
<text x="388.71" y="1086.6" font-size="39.71" textLength="49.82" lengthAdjust="spacingAndGlyphs" >+S</text>
<text x="185.11" y="1185.8" font-size="57.14" textLength="30.47" lengthAdjust="spacingAndGlyphs" >0</text>
<text x="184.41" y="957.3" font-size="57.14" textLength="32.15" lengthAdjust="spacingAndGlyphs" >2</text>
<text x="186.26" y="728.8" font-size="57.14" textLength="28.96" lengthAdjust="spacingAndGlyphs" >4</text>
<text x="184.47" y="500.3" font-size="57.14" textLength="31.46" lengthAdjust="spacingAndGlyphs" >6</text>
<text x="184.78" y="271.8" font-size="57.14" textLength="31.12" lengthAdjust="spacingAndGlyphs" >8</text>
<text x="258.81" y="1234.6" font-size="58.71" textLength="119.55" lengthAdjust="spacingAndGlyphs" >2460</text>
<text x="582.81" y="1234.6" font-size="58.71" textLength="119.55" lengthAdjust="spacingAndGlyphs" >2480</text>
<text x="906.81" y="1234.6" font-size="58.71" textLength="119.55" lengthAdjust="spacingAndGlyphs" >2500</text>
<text x="458.95" y="1322" font-size="69.57" textLength="349.4" lengthAdjust="spacingAndGlyphs" >Energy / eV</text>
<text transform="translate(113.3,1049) rotate(-90)" x="-5.52" y="0" font-size="67.17" textLength="820.28" lengthAdjust="spacingAndGlyphs">Norm. Intensity / Arb. Units</text>
<text x="1402.43" y="129.5" font-size="57.52" textLength="78.67" lengthAdjust="spacingAndGlyphs" font-weight="bold" >Gd</text>
<text x="1480.4" y="152.5" font-size="29.29" textLength="20.62" lengthAdjust="spacingAndGlyphs" font-weight="bold" >2</text>
<text x="1498.19" y="129.5" font-size="60.43" textLength="46.89" lengthAdjust="spacingAndGlyphs" font-weight="bold" >O</text>
<text x="1543.38" y="152.5" font-size="29.29" textLength="19.47" lengthAdjust="spacingAndGlyphs" font-weight="bold" >2</text>
<text x="1562.81" y="129.5" font-size="60.43" textLength="212.65" lengthAdjust="spacingAndGlyphs" font-weight="bold" >S - FTIR</text>
<text x="1402.22" y="208.4" font-size="51.74" textLength="245.89" lengthAdjust="spacingAndGlyphs" >KBr Pellets</text>
<text x="1969.5" y="234" font-size="51.43" textLength="149.82" lengthAdjust="spacingAndGlyphs" >25 min</text>
<text x="1970.85" y="331" font-size="51.43" textLength="54.21" lengthAdjust="spacingAndGlyphs" >12</text>
<text x="1970.9" y="445.2" font-size="51.43" textLength="53.39" lengthAdjust="spacingAndGlyphs" >10</text>
<text x="1969.61" y="535" font-size="51.43" textLength="29.58" lengthAdjust="spacingAndGlyphs" >8</text>
<text x="1969.31" y="638" font-size="51.43" textLength="29.9" lengthAdjust="spacingAndGlyphs" >6</text>
<text x="1971.01" y="734.5" font-size="52.17" textLength="27.53" lengthAdjust="spacingAndGlyphs" >4</text>
<text x="1969.25" y="830.5" font-size="51.43" textLength="30.56" lengthAdjust="spacingAndGlyphs" >2</text>
<text x="1969.92" y="943.7" font-size="51.43" textLength="28.97" lengthAdjust="spacingAndGlyphs" >0</text>
<text x="1309" y="1050.7" font-size="58.57" textLength="30.59" lengthAdjust="spacingAndGlyphs" >0</text>
<text x="1308.3" y="869.54" font-size="58.57" textLength="32.27" lengthAdjust="spacingAndGlyphs" >2</text>
<text x="1310.15" y="688.38" font-size="58.57" textLength="29.08" lengthAdjust="spacingAndGlyphs" >4</text>
<text x="1308.36" y="507.22" font-size="58.57" textLength="31.58" lengthAdjust="spacingAndGlyphs" >6</text>
<text x="1308.67" y="326.06" font-size="58.57" textLength="31.24" lengthAdjust="spacingAndGlyphs" >8</text>
<text x="1278.36" y="144.9" font-size="58.57" textLength="61.4" lengthAdjust="spacingAndGlyphs" >10</text>
<text x="1358.81" y="1234.6" font-size="58" textLength="91.3" lengthAdjust="spacingAndGlyphs" >500</text>
<text x="1557.22" y="1234.6" font-size="58" textLength="120.96" lengthAdjust="spacingAndGlyphs" >1000</text>
<text x="1771.52" y="1234.6" font-size="58" textLength="120.96" lengthAdjust="spacingAndGlyphs" >1500</text>
<text x="1987.21" y="1234.6" font-size="58" textLength="119.55" lengthAdjust="spacingAndGlyphs" >2000</text>
<text x="1469.46" y="1326.8" font-size="69.28" textLength="545.08" lengthAdjust="spacingAndGlyphs" >Wavenumber / cm</text>
<text x="2013.46" y="1288.1" font-size="37.54" textLength="30.34" lengthAdjust="spacingAndGlyphs" >-1</text>
<text transform="translate(1235,1059.7) rotate(-90)" x="-5.51" y="0" font-size="66.9" textLength="819.17" lengthAdjust="spacingAndGlyphs">Norm. Intensity / Arb. Units</text>
<text x="1517.75" y="1017.6" font-size="34.29" textLength="24.98" lengthAdjust="spacingAndGlyphs" >O</text>
<text x="1517.75" y="1147.4" font-size="33.43" textLength="24.98" lengthAdjust="spacingAndGlyphs" >O</text>
<text x="1519.68" y="1082.5" font-size="33.29" textLength="21.11" lengthAdjust="spacingAndGlyphs" >S</text>
<text x="1449.63" y="1082.5" font-size="33.29" textLength="23.62" lengthAdjust="spacingAndGlyphs" >O</text>
<text x="1578.22" y="1082.5" font-size="33.29" textLength="22.14" lengthAdjust="spacingAndGlyphs" >O</text>
<rect x="1473.4" y="1057.6" width="6.6" height="2.6" fill="#222"/>
<rect x="1601.3" y="1057.6" width="7" height="2.6" fill="#222"/>
<line x1="1525" y1="1024.1" x2="1525" y2="1048.1" stroke="#222" stroke-width="3" />
<line x1="1525" y1="1096.2" x2="1525" y2="1118.2" stroke="#222" stroke-width="3" />
<line x1="1535.4" y1="1024.1" x2="1535.4" y2="1048.1" stroke="#222" stroke-width="3" />
<line x1="1535.4" y1="1096.2" x2="1535.4" y2="1118.2" stroke="#222" stroke-width="3" />
<line x1="1484.8" y1="1074.1" x2="1514.6" y2="1074.1" stroke="#333" stroke-width="3.5" />
<line x1="1549" y1="1074.1" x2="1575" y2="1074.1" stroke="#333" stroke-width="3.5" />
<text x="1695.3" y="1107.7" font-size="40" textLength="23.04" lengthAdjust="spacingAndGlyphs" >ν</text>
<text x="1717.24" y="1128.1" font-size="30.48" textLength="49.75" lengthAdjust="spacingAndGlyphs" >sim</text>
<text x="1763.14" y="1108.2" font-size="47.55" textLength="19.01" lengthAdjust="spacingAndGlyphs" >:</text>
<text x="1792.43" y="1108.6" font-size="53.04" textLength="190.38" lengthAdjust="spacingAndGlyphs" >1110 cm</text>
<rect x="1981.6" y="1071.2" width="10.4" height="3.2" fill="#000"/>
<text x="1992.1" y="1079.7" font-size="28.26" textLength="14.06" lengthAdjust="spacingAndGlyphs" >1</text>
<circle cx="256" cy="1756.7" r="230" fill="url(#gOuter)"/>
<circle cx="256" cy="1756.7" r="230" fill="url(#gOuterShade)"/>
<circle cx="256" cy="1752" r="186" fill="none" stroke="url(#gShellBand)" stroke-width="14" filter="url(#fb6)"/>
<circle cx="256" cy="1752" r="173.5" fill="url(#gInner)"/>
<circle cx="256" cy="1752" r="173.5" fill="url(#gInnerBand)"/>
<circle cx="256" cy="1752" r="173.5" fill="url(#gInnerShade)"/>
<circle cx="1218" cy="1755" r="173" fill="url(#gGold)"/>
<circle cx="1218" cy="1755" r="173" fill="url(#gs1b)"/>
<circle cx="1218" cy="1755" r="173" fill="url(#gs1)"/>
<circle cx="2004" cy="1750.2" r="175" fill="url(#gGold)"/>
<circle cx="2004" cy="1750.2" r="175" fill="url(#gs2b)"/>
<circle cx="2004" cy="1750.2" r="175" fill="url(#gs2)"/>
<line x1="1149.7" y1="1560.4" x2="1157.15" y2="1538.95" stroke="#9a8a1e" stroke-width="4.5" />
<line x1="1157.15" y1="1538.95" x2="1164.6" y2="1517.5" stroke="#e03030" stroke-width="4.5" />
<line x1="1149.7" y1="1560.4" x2="1129.05" y2="1556.25" stroke="#9a8a1e" stroke-width="4.5" />
<line x1="1129.05" y1="1556.25" x2="1108.4" y2="1552.1" stroke="#e03030" stroke-width="4.5" />
<line x1="1149.7" y1="1560.4" x2="1174.45" y2="1571.1" stroke="#9a8a1e" stroke-width="4.5" />
<line x1="1174.45" y1="1571.1" x2="1199.2" y2="1581.8" stroke="#e03030" stroke-width="4.5" />
<line x1="1149.7" y1="1560.4" x2="1141.45" y2="1584.3" stroke="#9a8a1e" stroke-width="4.5" />
<line x1="1141.45" y1="1584.3" x2="1133.2" y2="1608.2" stroke="#e03030" stroke-width="4.5" />
<line x1="1298.2" y1="1563.7" x2="1288.3" y2="1544.7" stroke="#9a8a1e" stroke-width="4.5" />
<line x1="1288.3" y1="1544.7" x2="1278.4" y2="1525.7" stroke="#e03030" stroke-width="4.5" />
<line x1="1298.2" y1="1563.7" x2="1318.85" y2="1556.25" stroke="#9a8a1e" stroke-width="4.5" />
<line x1="1318.85" y1="1556.25" x2="1339.5" y2="1548.8" stroke="#e03030" stroke-width="4.5" />
<line x1="1298.2" y1="1563.7" x2="1274.3" y2="1571.95" stroke="#9a8a1e" stroke-width="4.5" />
<line x1="1274.3" y1="1571.95" x2="1250.4" y2="1580.2" stroke="#e03030" stroke-width="4.5" />
<line x1="1298.2" y1="1563.7" x2="1304" y2="1590.1" stroke="#9a8a1e" stroke-width="4.5" />
<line x1="1304" y1="1590.1" x2="1309.8" y2="1616.5" stroke="#e03030" stroke-width="4.5" />
<line x1="1045.7" y1="1641.3" x2="1038.3" y2="1621.45" stroke="#9a8a1e" stroke-width="4.5" />
<line x1="1038.3" y1="1621.45" x2="1030.9" y2="1601.6" stroke="#e03030" stroke-width="4.5" />
<line x1="1045.7" y1="1641.3" x2="1025.9" y2="1652" stroke="#9a8a1e" stroke-width="4.5" />
<line x1="1025.9" y1="1652" x2="1006.1" y2="1662.7" stroke="#e03030" stroke-width="4.5" />
<line x1="1045.7" y1="1641.3" x2="1071.3" y2="1637.15" stroke="#9a8a1e" stroke-width="4.5" />
<line x1="1071.3" y1="1637.15" x2="1096.9" y2="1633" stroke="#e03030" stroke-width="4.5" />
<line x1="1045.7" y1="1641.3" x2="1053.15" y2="1666.05" stroke="#9a8a1e" stroke-width="4.5" />
<line x1="1053.15" y1="1666.05" x2="1060.6" y2="1690.8" stroke="#e03030" stroke-width="4.5" />
<line x1="1399.5" y1="1641" x2="1402.2" y2="1619.65" stroke="#9a8a1e" stroke-width="4.5" />
<line x1="1402.2" y1="1619.65" x2="1404.9" y2="1598.3" stroke="#e03030" stroke-width="4.5" />
<line x1="1399.5" y1="1641" x2="1375.3" y2="1634.55" stroke="#9a8a1e" stroke-width="4.5" />
<line x1="1375.3" y1="1634.55" x2="1351.1" y2="1628.1" stroke="#e03030" stroke-width="4.5" />
<line x1="1399.5" y1="1641" x2="1421.5" y2="1646.1" stroke="#9a8a1e" stroke-width="4.5" />
<line x1="1421.5" y1="1646.1" x2="1443.5" y2="1651.2" stroke="#e03030" stroke-width="4.5" />
<line x1="1399.5" y1="1641" x2="1390.15" y2="1666.7" stroke="#9a8a1e" stroke-width="4.5" />
<line x1="1390.15" y1="1666.7" x2="1380.8" y2="1692.4" stroke="#e03030" stroke-width="4.5" />
<line x1="1019.3" y1="1763.4" x2="1000.35" y2="1750.2" stroke="#9a8a1e" stroke-width="4.5" />
<line x1="1000.35" y1="1750.2" x2="981.4" y2="1737" stroke="#e03030" stroke-width="4.5" />
<line x1="1019.3" y1="1763.4" x2="1008.6" y2="1782.4" stroke="#9a8a1e" stroke-width="4.5" />
<line x1="1008.6" y1="1782.4" x2="997.9" y2="1801.4" stroke="#e03030" stroke-width="4.5" />
<line x1="1019.3" y1="1763.4" x2="1036.65" y2="1744.4" stroke="#9a8a1e" stroke-width="4.5" />
<line x1="1036.65" y1="1744.4" x2="1054" y2="1725.4" stroke="#e03030" stroke-width="4.5" />
<line x1="1019.3" y1="1763.4" x2="1038.3" y2="1778.25" stroke="#9a8a1e" stroke-width="4.5" />
<line x1="1038.3" y1="1778.25" x2="1057.3" y2="1793.1" stroke="#e03030" stroke-width="4.5" />
<line x1="1419" y1="1773.5" x2="1404.85" y2="1754.4" stroke="#9a8a1e" stroke-width="4.5" />
<line x1="1404.85" y1="1754.4" x2="1390.7" y2="1735.3" stroke="#e03030" stroke-width="4.5" />
<line x1="1419" y1="1773.5" x2="1434.8" y2="1757.6" stroke="#9a8a1e" stroke-width="4.5" />
<line x1="1434.8" y1="1757.6" x2="1450.6" y2="1741.7" stroke="#e03030" stroke-width="4.5" />
<line x1="1419" y1="1773.5" x2="1433.8" y2="1791" stroke="#9a8a1e" stroke-width="4.5" />
<line x1="1433.8" y1="1791" x2="1448.6" y2="1808.5" stroke="#e03030" stroke-width="4.5" />
<line x1="1419" y1="1773.5" x2="1398.25" y2="1789.1" stroke="#9a8a1e" stroke-width="4.5" />
<line x1="1398.25" y1="1789.1" x2="1377.5" y2="1804.7" stroke="#e03030" stroke-width="4.5" />
<line x1="1058.9" y1="1874" x2="1035.8" y2="1874" stroke="#9a8a1e" stroke-width="4.5" />
<line x1="1035.8" y1="1874" x2="1012.7" y2="1874" stroke="#e03030" stroke-width="4.5" />
<line x1="1058.9" y1="1874" x2="1060.55" y2="1848.4" stroke="#9a8a1e" stroke-width="4.5" />
<line x1="1060.55" y1="1848.4" x2="1062.2" y2="1822.8" stroke="#e03030" stroke-width="4.5" />
<line x1="1058.9" y1="1874" x2="1082" y2="1874.8" stroke="#9a8a1e" stroke-width="4.5" />
<line x1="1082" y1="1874.8" x2="1105.1" y2="1875.6" stroke="#e03030" stroke-width="4.5" />
<line x1="1058.9" y1="1874" x2="1060.55" y2="1895.45" stroke="#9a8a1e" stroke-width="4.5" />
<line x1="1060.55" y1="1895.45" x2="1062.2" y2="1916.9" stroke="#e03030" stroke-width="4.5" />
<line x1="1372.5" y1="1883.9" x2="1366.75" y2="1862.45" stroke="#9a8a1e" stroke-width="4.5" />
<line x1="1366.75" y1="1862.45" x2="1361" y2="1841" stroke="#e03030" stroke-width="4.5" />
<line x1="1372.5" y1="1883.9" x2="1391.5" y2="1877.3" stroke="#9a8a1e" stroke-width="4.5" />
<line x1="1391.5" y1="1877.3" x2="1410.5" y2="1870.7" stroke="#e03030" stroke-width="4.5" />
<line x1="1372.5" y1="1883.9" x2="1346.1" y2="1888.85" stroke="#9a8a1e" stroke-width="4.5" />
<line x1="1346.1" y1="1888.85" x2="1319.7" y2="1893.8" stroke="#e03030" stroke-width="4.5" />
<line x1="1372.5" y1="1883.9" x2="1377.45" y2="1907.8" stroke="#9a8a1e" stroke-width="4.5" />
<line x1="1377.45" y1="1907.8" x2="1382.4" y2="1931.7" stroke="#e03030" stroke-width="4.5" />
<line x1="1148" y1="1943.3" x2="1137.3" y2="1919.35" stroke="#9a8a1e" stroke-width="4.5" />
<line x1="1137.3" y1="1919.35" x2="1126.6" y2="1895.4" stroke="#e03030" stroke-width="4.5" />
<line x1="1148" y1="1943.3" x2="1168.65" y2="1931.75" stroke="#9a8a1e" stroke-width="4.5" />
<line x1="1168.65" y1="1931.75" x2="1189.3" y2="1920.2" stroke="#e03030" stroke-width="4.5" />
<line x1="1148" y1="1943.3" x2="1128.2" y2="1954.85" stroke="#9a8a1e" stroke-width="4.5" />
<line x1="1128.2" y1="1954.85" x2="1108.4" y2="1966.4" stroke="#e03030" stroke-width="4.5" />
<line x1="1148" y1="1943.3" x2="1159.6" y2="1961.45" stroke="#9a8a1e" stroke-width="4.5" />
<line x1="1159.6" y1="1961.45" x2="1171.2" y2="1979.6" stroke="#e03030" stroke-width="4.5" />
<line x1="1271.8" y1="1954.8" x2="1249.55" y2="1941.6" stroke="#9a8a1e" stroke-width="4.5" />
<line x1="1249.55" y1="1941.6" x2="1227.3" y2="1928.4" stroke="#e03030" stroke-width="4.5" />
<line x1="1271.8" y1="1954.8" x2="1282.55" y2="1934.2" stroke="#9a8a1e" stroke-width="4.5" />
<line x1="1282.55" y1="1934.2" x2="1293.3" y2="1913.6" stroke="#e03030" stroke-width="4.5" />
<line x1="1271.8" y1="1954.8" x2="1292.45" y2="1962.25" stroke="#9a8a1e" stroke-width="4.5" />
<line x1="1292.45" y1="1962.25" x2="1313.1" y2="1969.7" stroke="#e03030" stroke-width="4.5" />
<line x1="1271.8" y1="1954.8" x2="1261.9" y2="1976.3" stroke="#9a8a1e" stroke-width="4.5" />
<line x1="1261.9" y1="1976.3" x2="1252" y2="1997.8" stroke="#e03030" stroke-width="4.5" />
<circle cx="1149.7" cy="1560.4" r="13.5" fill="url(#gS)"/>
<circle cx="1164.6" cy="1517.5" r="11.8" fill="url(#gO)"/>
<circle cx="1108.4" cy="1552.1" r="11.8" fill="url(#gO)"/>
<circle cx="1199.2" cy="1581.8" r="11.8" fill="url(#gO)"/>
<circle cx="1133.2" cy="1608.2" r="11.8" fill="url(#gO)"/>
<circle cx="1298.2" cy="1563.7" r="13.5" fill="url(#gS)"/>
<circle cx="1278.4" cy="1525.7" r="11.8" fill="url(#gO)"/>
<circle cx="1339.5" cy="1548.8" r="11.8" fill="url(#gO)"/>
<circle cx="1250.4" cy="1580.2" r="11.8" fill="url(#gO)"/>
<circle cx="1309.8" cy="1616.5" r="11.8" fill="url(#gO)"/>
<circle cx="1045.7" cy="1641.3" r="13.5" fill="url(#gS)"/>
<circle cx="1030.9" cy="1601.6" r="11.8" fill="url(#gO)"/>
<circle cx="1006.1" cy="1662.7" r="11.8" fill="url(#gO)"/>
<circle cx="1096.9" cy="1633" r="11.8" fill="url(#gO)"/>
<circle cx="1060.6" cy="1690.8" r="11.8" fill="url(#gO)"/>
<circle cx="1399.5" cy="1641.0" r="13.5" fill="url(#gS)"/>
<circle cx="1404.9" cy="1598.3" r="11.8" fill="url(#gO)"/>
<circle cx="1351.1" cy="1628.1" r="11.8" fill="url(#gO)"/>
<circle cx="1443.5" cy="1651.2" r="11.8" fill="url(#gO)"/>
<circle cx="1380.8" cy="1692.4" r="11.8" fill="url(#gO)"/>
<circle cx="1019.3" cy="1763.4" r="13.5" fill="url(#gS)"/>
<circle cx="981.4" cy="1737" r="11.8" fill="url(#gO)"/>
<circle cx="997.9" cy="1801.4" r="11.8" fill="url(#gO)"/>
<circle cx="1054" cy="1725.4" r="11.8" fill="url(#gO)"/>
<circle cx="1057.3" cy="1793.1" r="11.8" fill="url(#gO)"/>
<circle cx="1419" cy="1773.5" r="13.5" fill="url(#gS)"/>
<circle cx="1390.7" cy="1735.3" r="11.8" fill="url(#gO)"/>
<circle cx="1450.6" cy="1741.7" r="11.8" fill="url(#gO)"/>
<circle cx="1448.6" cy="1808.5" r="11.8" fill="url(#gO)"/>
<circle cx="1377.5" cy="1804.7" r="11.8" fill="url(#gO)"/>
<circle cx="1058.9" cy="1874" r="13.5" fill="url(#gS)"/>
<circle cx="1012.7" cy="1874" r="11.8" fill="url(#gO)"/>
<circle cx="1062.2" cy="1822.8" r="11.8" fill="url(#gO)"/>
<circle cx="1105.1" cy="1875.6" r="11.8" fill="url(#gO)"/>
<circle cx="1062.2" cy="1916.9" r="11.8" fill="url(#gO)"/>
<circle cx="1372.5" cy="1883.9" r="13.5" fill="url(#gS)"/>
<circle cx="1361" cy="1841" r="11.8" fill="url(#gO)"/>
<circle cx="1410.5" cy="1870.7" r="11.8" fill="url(#gO)"/>
<circle cx="1319.7" cy="1893.8" r="11.8" fill="url(#gO)"/>
<circle cx="1382.4" cy="1931.7" r="11.8" fill="url(#gO)"/>
<circle cx="1148" cy="1943.3" r="13.5" fill="url(#gS)"/>
<circle cx="1126.6" cy="1895.4" r="11.8" fill="url(#gO)"/>
<circle cx="1189.3" cy="1920.2" r="11.8" fill="url(#gO)"/>
<circle cx="1108.4" cy="1966.4" r="11.8" fill="url(#gO)"/>
<circle cx="1171.2" cy="1979.6" r="11.8" fill="url(#gO)"/>
<circle cx="1271.8" cy="1954.8" r="13.5" fill="url(#gS)"/>
<circle cx="1227.3" cy="1928.4" r="11.8" fill="url(#gO)"/>
<circle cx="1293.3" cy="1913.6" r="11.8" fill="url(#gO)"/>
<circle cx="1313.1" cy="1969.7" r="11.8" fill="url(#gO)"/>
<circle cx="1252" cy="1997.8" r="11.8" fill="url(#gO)"/>
<polygon points="601.6,1783.5 871,1783.5 871,1769.6 903,1800.7 871,1831.8 871,1818 601.6,1818" fill="#1f97d5"/>
<polygon points="1507.3,1709.4 1778.5,1709.4 1778.5,1695.2 1809,1726.4 1778.5,1758 1778.5,1743.8 1507.3,1743.8" fill="#1f97d5"/>
<polygon points="1798.8,1770 1529.6,1770 1529.6,1754 1497.2,1786.3 1529.6,1818.7 1529.6,1802.5 1798.8,1802.5" fill="#1f97d5"/>
<polygon points="420.56,1498.81 420.06,1499.6 419.39,1500.55 418.53,1501.72 417.53,1503.05 416.4,1504.53 415.2,1506.12 413.94,1507.8 412.65,1509.57 411.36,1511.4 410.1,1513.27 408.88,1515.18 407.78,1517.06 406.75,1518.86 405.73,1520.68 404.7,1522.56 403.66,1524.5 402.64,1526.49 401.63,1528.52 400.66,1530.59 399.74,1532.68 398.87,1534.8 398.06,1536.93 397.34,1539.08 396.71,1541.23 396.17,1543.35 395.73,1545.45 395.37,1547.53 395.08,1549.6 394.87,1551.63 394.73,1553.65 394.64,1555.64 394.59,1557.61 394.59,1559.56 394.62,1561.49 394.67,1563.39 394.75,1565.27 394.8,1567.16 394.87,1569.06 394.97,1570.99 395.1,1572.94 395.27,1574.91 395.49,1576.9 395.76,1578.9 396.1,1580.91 396.5,1582.94 396.99,1584.96 397.56,1587 398.21,1589.01 398.95,1591 399.75,1592.97 400.63,1594.93 401.57,1596.87 402.57,1598.79 403.62,1600.7 404.73,1602.58 405.89,1604.43 407.1,1606.25 408.34,1608.05 409.63,1609.8 410.95,1611.52 412.32,1613.21 413.76,1614.9 415.24,1616.57 416.78,1618.21 418.36,1619.83 419.99,1621.42 421.65,1622.97 423.35,1624.48 425.08,1625.95 426.84,1627.36 428.63,1628.71 430.42,1629.99 432.21,1631.22 434.01,1632.4 435.84,1633.55 437.71,1634.65 439.62,1635.7 441.56,1636.71 443.54,1637.66 445.56,1638.56 447.62,1639.39 449.72,1640.16 451.87,1640.87 454.07,1641.51 456.37,1642.06 458.73,1642.51 461.12,1642.89 463.54,1643.19 465.97,1643.43 468.39,1643.62 470.8,1643.75 473.19,1643.85 475.53,1643.91 477.82,1643.94 480.03,1643.95 482.21,1643.95 484.46,1643.92 486.78,1643.82 489.12,1643.66 491.43,1643.46 493.71,1643.22 495.9,1642.97 497.99,1642.71 499.93,1642.45 501.7,1642.21 503.25,1642 504.54,1641.83 505.58,1641.72 504.42,1631.28 503.28,1631.41 501.88,1631.59 500.29,1631.8 498.54,1632.04 496.64,1632.29 494.64,1632.54 492.56,1632.79 490.43,1633.01 488.3,1633.19 486.2,1633.34 484.16,1633.43 482.19,1633.45 480.16,1633.41 478.02,1633.36 475.84,1633.29 473.63,1633.19 471.41,1633.06 469.19,1632.9 467,1632.69 464.84,1632.44 462.73,1632.13 460.7,1631.78 458.77,1631.36 456.93,1630.89 455.12,1630.36 453.34,1629.78 451.58,1629.13 449.85,1628.43 448.15,1627.67 446.47,1626.87 444.81,1626.01 443.17,1625.1 441.55,1624.14 439.94,1623.14 438.35,1622.09 436.78,1621.01 435.25,1619.87 433.74,1618.68 432.23,1617.42 430.74,1616.11 429.27,1614.75 427.83,1613.35 426.42,1611.92 425.05,1610.46 423.72,1608.98 422.44,1607.49 421.21,1605.98 420.05,1604.48 418.93,1602.96 417.84,1601.4 416.78,1599.82 415.77,1598.22 414.8,1596.59 413.88,1594.95 413.01,1593.31 412.2,1591.66 411.44,1590.02 410.75,1588.39 410.13,1586.77 409.59,1585.19 409.12,1583.62 408.72,1582.05 408.37,1580.46 408.09,1578.84 407.85,1577.19 407.66,1575.53 407.51,1573.84 407.41,1572.13 407.33,1570.4 407.28,1568.66 407.26,1566.9 407.25,1565.13 407.3,1563.36 407.37,1561.61 407.46,1559.89 407.58,1558.19 407.73,1556.51 407.92,1554.85 408.16,1553.22 408.43,1551.6 408.76,1550.02 409.15,1548.45 409.59,1546.9 410.09,1545.37 410.69,1543.83 411.38,1542.24 412.16,1540.6 413.01,1538.93 413.93,1537.23 414.9,1535.52 415.92,1533.81 416.97,1532.12 418.04,1530.45 419.12,1528.81 420.19,1527.22 421.22,1525.74 422.26,1524.37 423.39,1523 424.6,1521.58 425.87,1520.15 427.18,1518.73 428.49,1517.35 429.78,1516.02 431.02,1514.76 432.18,1513.6 433.26,1512.54 434.24,1511.57 435.04,1510.79" fill="#1c86c8"/>
<polygon points="509.84,1650.7 527,1629 500.16,1622.3" fill="#1c86c8"/>
<polygon points="775.96,1513.09 775.12,1513.66 774.03,1514.32 772.62,1515.12 770.97,1516.04 769.13,1517.05 767.16,1518.14 765.1,1519.31 763,1520.56 760.88,1521.87 758.8,1523.25 756.77,1524.71 754.9,1526.2 753.26,1527.64 751.72,1529.06 750.19,1530.53 748.69,1532.05 747.21,1533.62 745.77,1535.24 744.36,1536.93 743,1538.67 741.68,1540.48 740.41,1542.36 739.2,1544.3 738.05,1546.31 736.96,1548.39 735.93,1550.53 734.95,1552.72 734.03,1554.97 733.16,1557.26 732.34,1559.58 731.58,1561.92 730.88,1564.28 730.23,1566.65 729.64,1569.02 729.12,1571.38 728.65,1573.72 728.25,1576.07 727.9,1578.47 727.6,1580.88 727.36,1583.31 727.18,1585.75 727.05,1588.19 726.98,1590.61 726.97,1593.02 727.01,1595.39 727.12,1597.73 727.28,1600.01 727.51,1602.27 727.75,1604.52 728.11,1606.74 728.55,1608.89 729.07,1610.98 729.64,1613.01 730.24,1614.98 730.86,1616.9 731.47,1618.77 732.07,1620.59 732.63,1622.36 733.14,1624.08 733.59,1625.8 734,1627.58 734.44,1629.36 734.88,1631.1 735.31,1632.79 735.73,1634.44 736.13,1636.05 736.49,1637.63 736.8,1639.18 737.07,1640.69 737.28,1642.18 737.43,1643.64 737.5,1645.11 737.48,1646.61 737.4,1648.14 737.29,1649.66 737.13,1651.18 736.92,1652.68 736.67,1654.17 736.37,1655.65 736.04,1657.1 735.65,1658.52 735.23,1659.92 734.76,1661.28 734.25,1662.61 733.69,1663.93 733.08,1665.24 732.43,1666.54 731.73,1667.83 730.98,1669.09 730.2,1670.33 729.38,1671.53 728.52,1672.69 727.63,1673.8 726.72,1674.87 725.78,1675.87 724.84,1676.79 723.9,1677.67 722.84,1678.53 721.67,1679.39 720.41,1680.24 719.08,1681.07 717.7,1681.88 716.31,1682.65 714.93,1683.4 713.57,1684.11 712.26,1684.78 711.02,1685.43 709.91,1686.01 708.97,1686.5 708.12,1686.91 707.3,1687.27 706.51,1687.59 705.76,1687.87 705.05,1688.11 704.38,1688.33 703.74,1688.54 703.13,1688.72 702.54,1688.9 701.96,1689.09 701.48,1689.27 704.52,1697.73 704.86,1697.61 705.25,1697.49 705.77,1697.33 706.41,1697.13 707.13,1696.9 707.95,1696.64 708.83,1696.33 709.78,1695.97 710.8,1695.56 711.86,1695.09 712.98,1694.56 714.09,1693.99 715.2,1693.4 716.4,1692.78 717.73,1692.09 719.15,1691.35 720.64,1690.54 722.17,1689.69 723.73,1688.77 725.3,1687.8 726.84,1686.76 728.35,1685.65 729.81,1684.46 731.16,1683.21 732.35,1681.9 733.47,1680.56 734.54,1679.18 735.55,1677.76 736.52,1676.29 737.43,1674.8 738.29,1673.27 739.09,1671.73 739.84,1670.16 740.53,1668.58 741.17,1666.99 741.75,1665.39 742.28,1663.77 742.75,1662.12 743.16,1660.45 743.52,1658.75 743.83,1657.05 744.08,1655.33 744.28,1653.6 744.43,1651.86 744.52,1650.12 744.57,1648.38 744.56,1646.64 744.5,1644.89 744.41,1643.11 744.23,1641.34 743.98,1639.59 743.68,1637.86 743.33,1636.15 742.94,1634.45 742.52,1632.75 742.1,1631.06 741.66,1629.37 741.23,1627.67 740.81,1625.97 740.41,1624.2 740,1622.33 739.53,1620.42 739.02,1618.52 738.49,1616.64 737.96,1614.76 737.44,1612.89 736.96,1611.03 736.52,1609.17 736.14,1607.31 735.84,1605.46 735.62,1603.61 735.49,1601.73 735.53,1599.76 735.62,1597.69 735.76,1595.58 735.96,1593.43 736.21,1591.25 736.51,1589.06 736.86,1586.87 737.27,1584.69 737.72,1582.52 738.22,1580.4 738.76,1578.31 739.35,1576.28 739.99,1574.27 740.68,1572.23 741.43,1570.19 742.23,1568.16 743.08,1566.15 743.97,1564.17 744.9,1562.24 745.86,1560.36 746.85,1558.56 747.87,1556.83 748.9,1555.2 749.95,1553.69 751.02,1552.26 752.12,1550.91 753.27,1549.61 754.45,1548.36 755.66,1547.17 756.92,1546.01 758.21,1544.89 759.53,1543.81 760.9,1542.75 762.29,1541.73 763.72,1540.72 765.1,1539.8 766.47,1538.97 767.99,1538.14 769.69,1537.27 771.52,1536.41 773.42,1535.56 775.34,1534.73 777.24,1533.95 779.07,1533.22 780.8,1532.55 782.4,1531.93 783.87,1531.37 785.04,1530.91" fill="#1c86c8"/>
<polygon points="699.19,1681.59 690.5,1697.5 706.81,1705.41" fill="#1c86c8"/>
<polygon points="690.17,1610.13 691.34,1610.38 692.84,1610.68 694.53,1610.99 696.41,1611.34 698.41,1611.71 700.5,1612.12 702.62,1612.56 704.73,1613.02 706.76,1613.51 708.66,1614.03 710.35,1614.55 711.81,1615.08 713.2,1615.65 714.6,1616.26 715.96,1616.91 717.28,1617.6 718.57,1618.32 719.82,1619.07 721.06,1619.85 722.26,1620.67 723.45,1621.52 724.61,1622.4 725.76,1623.31 726.84,1624.21 727.81,1625.08 728.69,1625.97 729.57,1626.94 730.45,1627.98 731.33,1629.09 732.24,1630.28 733.18,1631.53 734.17,1632.84 735.21,1634.21 736.33,1635.62 737.53,1637.06 738.76,1638.44 739.95,1639.72 741.1,1641 742.3,1642.36 743.55,1643.78 744.85,1645.23 746.21,1646.72 747.64,1648.21 749.14,1649.7 750.73,1651.17 752.42,1652.59 754.21,1653.96 756.08,1655.23 758,1656.39 759.95,1657.46 761.95,1658.47 764,1659.42 766.08,1660.3 768.19,1661.13 770.32,1661.91 772.46,1662.62 774.59,1663.29 776.72,1663.89 778.83,1664.44 780.97,1664.95 783.25,1665.4 785.65,1665.76 788.09,1666.03 790.53,1666.23 792.95,1666.38 795.3,1666.49 797.55,1666.56 799.65,1666.6 801.55,1666.64 803.22,1666.67 804.58,1666.7 805.66,1666.74 806.34,1655.26 805.13,1655.17 803.6,1655.09 801.89,1655.02 800,1654.94 797.97,1654.86 795.85,1654.75 793.67,1654.61 791.49,1654.44 789.34,1654.22 787.29,1653.95 785.38,1653.63 783.63,1653.25 781.86,1652.79 780.01,1652.27 778.16,1651.7 776.3,1651.08 774.45,1650.42 772.63,1649.72 770.85,1648.97 769.11,1648.19 767.43,1647.37 765.83,1646.53 764.31,1645.65 762.92,1644.77 761.64,1643.86 760.4,1642.87 759.19,1641.79 757.98,1640.63 756.79,1639.39 755.6,1638.1 754.42,1636.75 753.24,1635.36 752.05,1633.95 750.85,1632.53 749.62,1631.1 748.44,1629.76 747.38,1628.57 746.41,1627.42 745.47,1626.22 744.53,1624.99 743.58,1623.72 742.6,1622.42 741.58,1621.09 740.5,1619.74 739.35,1618.38 738.11,1617.01 736.77,1615.66 735.36,1614.39 733.96,1613.22 732.57,1612.12 731.15,1611.05 729.69,1610 728.19,1608.99 726.65,1608.01 725.06,1607.06 723.43,1606.15 721.76,1605.28 720.03,1604.45 718.26,1603.67 716.39,1602.92 714.32,1602.22 712.11,1601.58 709.83,1601.01 707.5,1600.49 705.17,1600.02 702.88,1599.59 700.67,1599.21 698.59,1598.86 696.69,1598.55 695.03,1598.29 693.69,1598.06 692.63,1597.87" fill="#1c86c8"/>
<polygon points="808.52,1677.81 826,1658 803.48,1644.19" fill="#1c86c8"/>
<text x="92.32" y="1566.2" font-size="43.91" textLength="280.89" lengthAdjust="spacingAndGlyphs" font-weight="bold" >Melted Sulfur</text>
<text x="167.32" y="1771.8" font-size="65" textLength="82.46" lengthAdjust="spacingAndGlyphs" font-weight="bold" >Gd</text>
<text x="248.4" y="1784.3" font-size="41.43" textLength="22.25" lengthAdjust="spacingAndGlyphs" font-weight="bold" >2</text>
<text x="269.35" y="1771.8" font-size="65" textLength="51.48" lengthAdjust="spacingAndGlyphs" font-weight="bold" >O</text>
<text x="318.95" y="1784.3" font-size="41.43" textLength="23.37" lengthAdjust="spacingAndGlyphs" font-weight="bold" >3</text>
<text x="440.88" y="1510.3" font-size="47.86" textLength="34.97" lengthAdjust="spacingAndGlyphs" stroke="#fff" stroke-width="0.45">O</text>
<text x="475.95" y="1520" font-size="28.57" textLength="20.54" lengthAdjust="spacingAndGlyphs" >2</text>
<text x="497.07" y="1510.3" font-size="47.86" textLength="63.67" lengthAdjust="spacingAndGlyphs" stroke="#fff" stroke-width="0.45">(g)</text>
<text x="526.35" y="1630.5" font-size="51.86" textLength="65.71" lengthAdjust="spacingAndGlyphs" stroke="#fff" stroke-width="0.45">SO</text>
<text x="593.16" y="1641.5" font-size="32.14" textLength="18.21" lengthAdjust="spacingAndGlyphs" >2</text>
<text x="612.94" y="1630.5" font-size="51.86" textLength="62.34" lengthAdjust="spacingAndGlyphs" stroke="#fff" stroke-width="0.45">(g)</text>
<text x="789.86" y="1541" font-size="55.71" textLength="132.78" lengthAdjust="spacingAndGlyphs" stroke="#fff" stroke-width="0.45">CO(g)</text>
<text x="599.92" y="1753.8" font-size="55.14" textLength="24.94" lengthAdjust="spacingAndGlyphs" stroke="#fff" stroke-width="0.45">S</text>
<text x="627.72" y="1766.4" font-size="32.14" textLength="18.7" lengthAdjust="spacingAndGlyphs" >2</text>
<text x="649.81" y="1753.8" font-size="55.14" textLength="60.89" lengthAdjust="spacingAndGlyphs" stroke="#fff" stroke-width="0.45">(g)</text>
<text x="721.03" y="1753.8" font-size="55.14" textLength="32.39" lengthAdjust="spacingAndGlyphs" stroke="#fff" stroke-width="0.45">+</text>
<text x="766.45" y="1753.8" font-size="55.14" textLength="67.39" lengthAdjust="spacingAndGlyphs" stroke="#fff" stroke-width="0.45">CO</text>
<text x="834.22" y="1766.4" font-size="32.14" textLength="20.9" lengthAdjust="spacingAndGlyphs" >2</text>
<text x="857.41" y="1753.8" font-size="55.14" textLength="60.89" lengthAdjust="spacingAndGlyphs" stroke="#fff" stroke-width="0.45">(g)</text>
<text x="638.15" y="1903" font-size="48.26" textLength="194.98" lengthAdjust="spacingAndGlyphs" font-style="italic" stroke="#fff" stroke-width="0.45">4 min Irr.</text>
<text x="1057.03" y="1489.4" font-size="44.86" textLength="328.47" lengthAdjust="spacingAndGlyphs" font-weight="bold" >Sulfated surface</text>
<text x="1124.61" y="1766.3" font-size="62.43" textLength="79.71" lengthAdjust="spacingAndGlyphs" fill="#fff" stroke="#fff" stroke-width="1.4">Gd</text>
<text x="1204.82" y="1780.6" font-size="40.14" textLength="23.1" lengthAdjust="spacingAndGlyphs" fill="#fff" stroke="#fff" stroke-width="1.4">2</text>
<text x="1230.81" y="1766.3" font-size="62.43" textLength="43.04" lengthAdjust="spacingAndGlyphs" fill="#fff" stroke="#fff" stroke-width="1.4">O</text>
<text x="1272.99" y="1780.6" font-size="40.14" textLength="24.57" lengthAdjust="spacingAndGlyphs" fill="#fff" stroke="#fff" stroke-width="1.4">2</text>
<text x="1300.23" y="1766.3" font-size="62.43" textLength="29.23" lengthAdjust="spacingAndGlyphs" fill="#fff" stroke="#fff" stroke-width="1.4">S</text>
<text x="1832.47" y="1543.4" font-size="44.06" textLength="338.25" lengthAdjust="spacingAndGlyphs" font-weight="bold" >Reduced surface</text>
<text x="1554.66" y="1602" font-size="46.81" textLength="222.01" lengthAdjust="spacingAndGlyphs" font-style="italic" stroke="#fff" stroke-width="0.45">10 min Irr.</text>
<text x="1595.92" y="1677" font-size="52.14" textLength="135.17" lengthAdjust="spacingAndGlyphs" stroke="#fff" stroke-width="0.45">CO(g)</text>
<text x="1602.17" y="1863.2" font-size="49.14" textLength="40.31" lengthAdjust="spacingAndGlyphs" stroke="#fff" stroke-width="0.45">O</text>
<text x="1641.24" y="1872" font-size="28.57" textLength="19.56" lengthAdjust="spacingAndGlyphs" >2</text>
<text x="1658.62" y="1863.2" font-size="49.14" textLength="68.89" lengthAdjust="spacingAndGlyphs" stroke="#fff" stroke-width="0.45">(g)</text>
<text x="1556.15" y="1936" font-size="46.81" textLength="222.53" lengthAdjust="spacingAndGlyphs" font-style="italic" stroke="#fff" stroke-width="0.45">25 min Irr.</text>
<text x="1902.04" y="1767.4" font-size="62.29" textLength="79.05" lengthAdjust="spacingAndGlyphs" fill="#fff" stroke="#fff" stroke-width="1.4">Gd</text>
<text x="1981.85" y="1781" font-size="37.14" textLength="23.96" lengthAdjust="spacingAndGlyphs" fill="#fff" stroke="#fff" stroke-width="1.4">2</text>
<text x="2006.9" y="1767.4" font-size="62.29" textLength="43.15" lengthAdjust="spacingAndGlyphs" fill="#fff" stroke="#fff" stroke-width="1.4">O</text>
<text x="2050.86" y="1781" font-size="37.14" textLength="23.84" lengthAdjust="spacingAndGlyphs" fill="#fff" stroke="#fff" stroke-width="1.4">2</text>
<text x="2076.32" y="1767.4" font-size="62.29" textLength="29.35" lengthAdjust="spacingAndGlyphs" fill="#fff" stroke="#fff" stroke-width="1.4">S</text></g></svg>
</body></html>
